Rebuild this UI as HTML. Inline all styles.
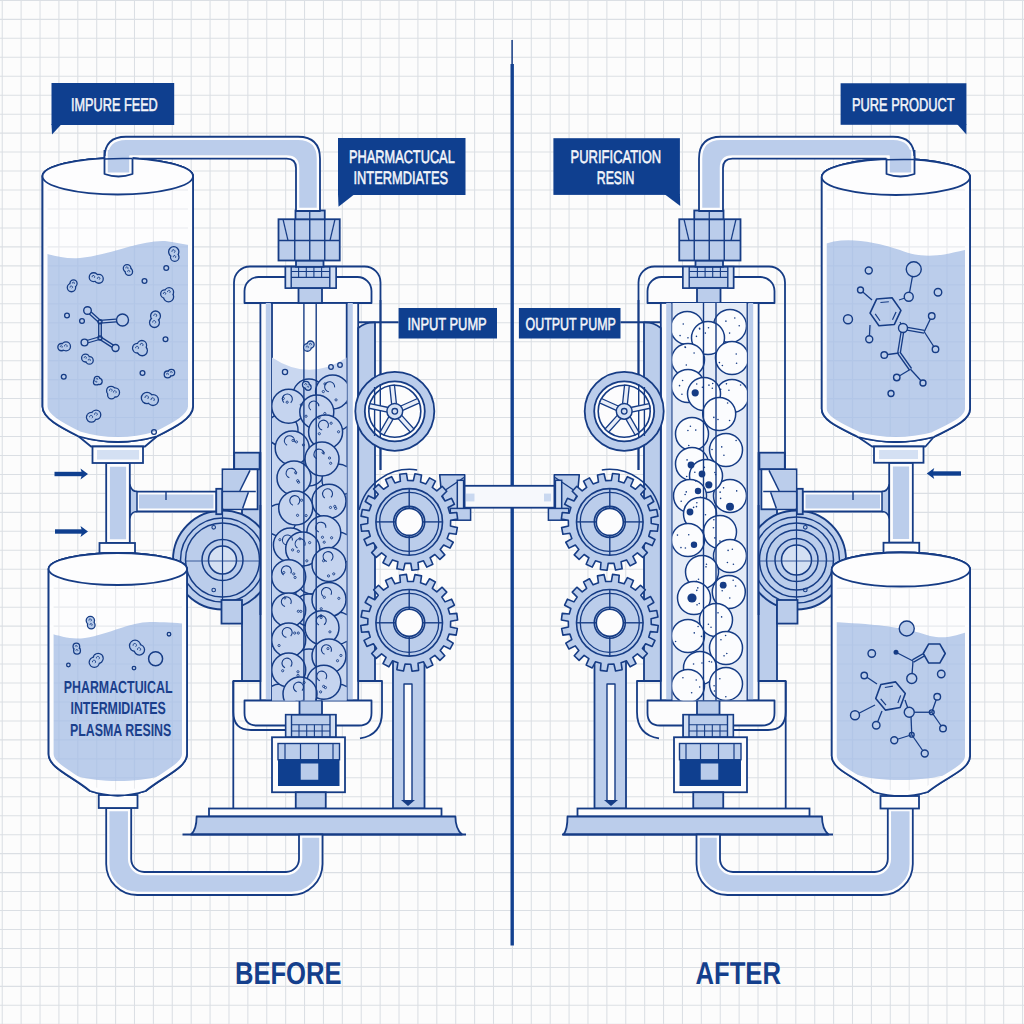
<!DOCTYPE html>
<html><head><meta charset="utf-8"><style>
html,body{margin:0;padding:0;background:#fcfcfc;}
svg{display:block;font-family:"Liberation Sans",sans-serif;}
text{text-rendering:geometricPrecision;}
</style></head><body>
<svg width="1024" height="1024" viewBox="0 0 1024 1024"><rect width="1024" height="1024" fill="#fcfcfc"/>
<path d="M2.23 0V1024M21.12 0V1024M40.02 0V1024M58.91 0V1024M77.81 0V1024M96.7 0V1024M115.6 0V1024M134.49 0V1024M153.39 0V1024M172.28 0V1024M191.18 0V1024M210.07 0V1024M228.97 0V1024M247.86 0V1024M266.76 0V1024M285.66 0V1024M304.55 0V1024M323.44 0V1024M342.34 0V1024M361.24 0V1024M380.13 0V1024M399.03 0V1024M417.92 0V1024M436.81 0V1024M455.71 0V1024M474.61 0V1024M493.5 0V1024M512.39 0V1024M531.29 0V1024M550.19 0V1024M569.08 0V1024M587.98 0V1024M606.87 0V1024M625.76 0V1024M644.66 0V1024M663.55 0V1024M682.45 0V1024M701.35 0V1024M720.24 0V1024M739.13 0V1024M758.03 0V1024M776.92 0V1024M795.82 0V1024M814.72 0V1024M833.61 0V1024M852.5 0V1024M871.4 0V1024M890.29 0V1024M909.19 0V1024M928.09 0V1024M946.98 0V1024M965.88 0V1024M984.77 0V1024M1003.66 0V1024M1022.56 0V1024M0 0.4H1024M0 19.36H1024M0 38.32H1024M0 57.28H1024M0 76.24H1024M0 95.2H1024M0 114.17H1024M0 133.13H1024M0 152.09H1024M0 171.05H1024M0 190.01H1024M0 208.97H1024M0 227.93H1024M0 246.89H1024M0 265.85H1024M0 284.81H1024M0 303.78H1024M0 322.74H1024M0 341.7H1024M0 360.66H1024M0 379.62H1024M0 398.58H1024M0 417.54H1024M0 436.5H1024M0 455.46H1024M0 474.42H1024M0 493.39H1024M0 512.35H1024M0 531.31H1024M0 550.27H1024M0 569.23H1024M0 588.19H1024M0 607.15H1024M0 626.11H1024M0 645.07H1024M0 664.03H1024M0 683H1024M0 701.96H1024M0 720.92H1024M0 739.88H1024M0 758.84H1024M0 777.8H1024M0 796.76H1024M0 815.72H1024M0 834.68H1024M0 853.64H1024M0 872.61H1024M0 891.57H1024M0 910.53H1024M0 929.49H1024M0 948.45H1024M0 967.41H1024M0 986.37H1024M0 1005.33H1024M0 1024.29H1024" stroke="#dbdfe4" stroke-width="1.05" fill="none"/>
<line x1="512.1" y1="40" x2="512.1" y2="64" stroke="#163c85" stroke-width="1.5"/>
<line x1="512.2" y1="64" x2="512.2" y2="945.5" stroke="#12408f" stroke-width="3.4"/>
<rect x="463.6" y="485.8" width="91.4" height="21.9" rx="0" fill="#f6f8fc" stroke="#163c85" stroke-width="1.8" />
<rect x="466" y="493.6" width="8.5" height="7.8" rx="0" fill="#c9d8f0" stroke="#163c85" stroke-width="0" />
<rect x="544" y="493.6" width="7" height="7.8" rx="0" fill="#c9d8f0" stroke="#163c85" stroke-width="0" />
<path d="M234 470V282.5A16 16 0 0 1 250 266.5H364.5A16 16 0 0 1 380.5 282.5V470" fill="none" stroke="#163c85" stroke-width="1.8" stroke-linejoin="round" />
<path d="M244.5 303V291A14 14 0 0 1 258.5 277H357.5A14 14 0 0 1 371.5 291V303Z" fill="#fcfcfd" stroke="#163c85" stroke-width="1.8" stroke-linejoin="round" />
<rect x="260.4" y="303" width="97.8" height="397.5" rx="0" fill="#fcfcfd" stroke="#163c85" stroke-width="1.8" />
<rect x="265.8" y="303" width="5" height="397.5" rx="0" fill="#bbcdeb" stroke="#163c85" stroke-width="0" />
<rect x="347.4" y="303" width="5.4" height="397.5" rx="0" fill="#bbcdeb" stroke="#163c85" stroke-width="0" />
<line x1="272" y1="303" x2="272" y2="700.5" stroke="#163c85" stroke-width="1.8"/>
<line x1="346.7" y1="303" x2="346.7" y2="700.5" stroke="#163c85" stroke-width="1.8"/>
<rect x="242" y="453" width="18.4" height="228" rx="0" fill="#bbcdeb" stroke="#163c85" stroke-width="1.8" />
<path d="M358.2 681V328Q366 322 375 322.5V681Z" fill="#bbcdeb" stroke="#163c85" stroke-width="1.8" stroke-linejoin="round" />
<line x1="380.5" y1="300" x2="380.5" y2="470" stroke="#163c85" stroke-width="1.8"/>
<rect x="234.2" y="452.7" width="25.4" height="16.6" rx="0" fill="#bbcdeb" stroke="#163c85" stroke-width="1.8" />
<rect x="222.5" y="469.3" width="35.1" height="40" rx="0" fill="#fcfcfd" stroke="#163c85" stroke-width="1.8" />
<path d="M223.4 470.3H250L239.8 491H223.4Z" fill="#bbcdeb" stroke="#163c85" stroke-width="0" stroke-linejoin="round" />
<path d="M223.4 492.3H248.4L242.6 508.4H223.4Z" fill="#bbcdeb" stroke="#163c85" stroke-width="0" stroke-linejoin="round" />
<line x1="250" y1="470.3" x2="239.8" y2="491" stroke="#163c85" stroke-width="1.5"/>
<line x1="248.4" y1="492.3" x2="242.6" y2="508.4" stroke="#163c85" stroke-width="1.5"/>
<line x1="222.5" y1="491.6" x2="255.8" y2="491.6" stroke="#163c85" stroke-width="1.5"/>
<path d="M260.4 681H233.3V712Q233.3 730 251 730H300" fill="none" stroke="#163c85" stroke-width="1.8" stroke-linejoin="round" />
<path d="M358.2 681H382V712Q382 735 360 738.4" fill="none" stroke="#163c85" stroke-width="1.8" stroke-linejoin="round" />
<path d="M244.5 700.5H371.5V713Q371.5 725.5 359 725.5H257Q244.5 725.5 244.5 713Z" fill="#fcfcfd" stroke="#163c85" stroke-width="1.8" stroke-linejoin="round" />
<line x1="233.3" y1="681" x2="233.3" y2="808.5" stroke="#163c85" stroke-width="1.8"/>
<rect x="299.5" y="700.5" width="22.5" height="14.25" rx="0" fill="#bbcdeb" stroke="#163c85" stroke-width="1.8" />
<rect x="285.75" y="714.75" width="50" height="22.5" rx="0" fill="#bbcdeb" stroke="#163c85" stroke-width="1.8" />
<rect x="285.75" y="714.75" width="5.75" height="22.5" rx="0" fill="#d4e0f3" stroke="#163c85" stroke-width="1.4" />
<rect x="330" y="714.75" width="5.75" height="22.5" rx="0" fill="#d4e0f3" stroke="#163c85" stroke-width="1.4" />
<line x1="291.5" y1="724.75" x2="330" y2="724.75" stroke="#163c85" stroke-width="1.2"/>
<line x1="291.5" y1="731" x2="330" y2="731" stroke="#163c85" stroke-width="1.2"/>
<line x1="299" y1="724.75" x2="299" y2="737.25" stroke="#163c85" stroke-width="1.1"/>
<line x1="306.7" y1="724.75" x2="306.7" y2="737.25" stroke="#163c85" stroke-width="1.1"/>
<line x1="314.4" y1="724.75" x2="314.4" y2="737.25" stroke="#163c85" stroke-width="1.1"/>
<line x1="322.1" y1="724.75" x2="322.1" y2="737.25" stroke="#163c85" stroke-width="1.1"/>
<rect x="272" y="737.25" width="73" height="55" rx="0" fill="#fcfcfd" stroke="#163c85" stroke-width="1.8" />
<rect x="278" y="743.5" width="61.5" height="16.25" rx="0" fill="#bbcdeb" stroke="#163c85" stroke-width="1.4" />
<line x1="285" y1="743.5" x2="285" y2="759.75" stroke="#163c85" stroke-width="1.2"/>
<line x1="300.5" y1="743.5" x2="300.5" y2="759.75" stroke="#163c85" stroke-width="1.2"/>
<line x1="318.5" y1="743.5" x2="318.5" y2="759.75" stroke="#163c85" stroke-width="1.2"/>
<line x1="333" y1="743.5" x2="333" y2="759.75" stroke="#163c85" stroke-width="1.2"/>
<rect x="278" y="759.75" width="61.5" height="26.25" rx="0" fill="#0f3f8f" stroke="#163c85" stroke-width="0" />
<rect x="300.75" y="763.5" width="17.5" height="16.25" rx="0" fill="#b9cbea" stroke="#163c85" stroke-width="0" />
<rect x="295.75" y="792.25" width="30" height="16.25" rx="0" fill="#bbcdeb" stroke="#163c85" stroke-width="1.8" />
<rect x="298.5" y="288" width="23.5" height="15" rx="0" fill="#bbcdeb" stroke="#163c85" stroke-width="1.8" />
<rect x="285.5" y="266.75" width="50.5" height="21.25" rx="0" fill="#bbcdeb" stroke="#163c85" stroke-width="1.8" />
<rect x="285.5" y="266.75" width="5.7" height="21.25" rx="0" fill="#d4e0f3" stroke="#163c85" stroke-width="1.4" />
<rect x="329.8" y="266.75" width="6.2" height="21.25" rx="0" fill="#d4e0f3" stroke="#163c85" stroke-width="1.4" />
<line x1="291.2" y1="271.5" x2="329.8" y2="271.5" stroke="#163c85" stroke-width="1.2"/>
<line x1="291.2" y1="277.3" x2="329.8" y2="277.3" stroke="#163c85" stroke-width="1.2"/>
<line x1="298.6" y1="266.75" x2="298.6" y2="277.3" stroke="#163c85" stroke-width="1.1"/>
<line x1="306.3" y1="266.75" x2="306.3" y2="277.3" stroke="#163c85" stroke-width="1.1"/>
<line x1="313.9" y1="266.75" x2="313.9" y2="277.3" stroke="#163c85" stroke-width="1.1"/>
<line x1="321.6" y1="266.75" x2="321.6" y2="277.3" stroke="#163c85" stroke-width="1.1"/>
<rect x="296" y="260.5" width="27.5" height="6.25" rx="0" fill="#bbcdeb" stroke="#163c85" stroke-width="1.8" />
<rect x="278.5" y="219.25" width="61.25" height="41.25" rx="0" fill="#bbcdeb" stroke="#163c85" stroke-width="1.8" />
<line x1="278.5" y1="240.5" x2="339.75" y2="240.5" stroke="#163c85" stroke-width="1.4"/>
<line x1="294.75" y1="219.25" x2="294.75" y2="260.5" stroke="#163c85" stroke-width="1.4"/>
<line x1="309.75" y1="219.25" x2="309.75" y2="260.5" stroke="#163c85" stroke-width="1.4"/>
<line x1="324.75" y1="219.25" x2="324.75" y2="260.5" stroke="#163c85" stroke-width="1.4"/>
<line x1="283" y1="219.25" x2="288" y2="240.5" stroke="#163c85" stroke-width="1.2"/>
<line x1="335" y1="219.25" x2="330" y2="240.5" stroke="#163c85" stroke-width="1.2"/>
<rect x="295.5" y="210.5" width="29.25" height="8.75" rx="0" fill="#bbcdeb" stroke="#163c85" stroke-width="1.8" />
<line x1="309.75" y1="210.5" x2="309.75" y2="219.25" stroke="#163c85" stroke-width="1.2"/>
<rect x="393" y="660" width="31.5" height="148.5" rx="0" fill="#bbcdeb" stroke="#163c85" stroke-width="1.8" />
<path d="M404 684H412V800L408 804L404 800Z" fill="#fcfcfd" stroke="#163c85" stroke-width="1.4" stroke-linejoin="round" />
<path d="M401 800H415L408 806Z" fill="#163c85" stroke="#163c85" stroke-width="0" stroke-linejoin="round" />
<rect x="209" y="808.5" width="232.5" height="8" rx="0" fill="#fdfdfe" stroke="#163c85" stroke-width="1.8" />
<path d="M196.6 816.5H455.4C455.4 826 458 831 462 834.5H191C195 831 196.6 826 196.6 816.5Z" fill="#bbcdeb" stroke="#163c85" stroke-width="1.8" stroke-linejoin="round" />
<line x1="182.5" y1="834.5" x2="466" y2="834.5" stroke="#163c85" stroke-width="1.8"/>
<circle cx="394.8" cy="411.3" r="39.5" fill="#bbcdeb" stroke="#163c85" stroke-width="1.8" />
<circle cx="394.8" cy="411.3" r="30" fill="#fcfcfd" stroke="#163c85" stroke-width="1.8" />
<circle cx="394.8" cy="411.3" r="26" fill="none" stroke="#163c85" stroke-width="1.6" />
<line x1="374.6" y1="387" x2="374.6" y2="436" stroke="#163c85" stroke-width="1.4"/>
<line x1="380.3" y1="384" x2="380.3" y2="438" stroke="#163c85" stroke-width="1.4"/>
<path d="M396.46 404.09L394.47 385.19L389.7 385.69L391.68 404.59Z" fill="#e9eef8" stroke="#163c85" stroke-width="1.3" stroke-linejoin="round" />
<path d="M402.17 410.65L419.53 402.92L417.58 398.53L400.22 406.26Z" fill="#e9eef8" stroke="#163c85" stroke-width="1.3" stroke-linejoin="round" />
<path d="M397.7 418.11L410.41 432.23L413.98 429.02L401.27 414.9Z" fill="#e9eef8" stroke="#163c85" stroke-width="1.3" stroke-linejoin="round" />
<path d="M389.22 416.16L379.72 432.62L383.88 435.02L393.38 418.56Z" fill="#e9eef8" stroke="#163c85" stroke-width="1.3" stroke-linejoin="round" />
<path d="M388.45 407.5L369.87 403.55L368.87 408.24L387.45 412.19Z" fill="#e9eef8" stroke="#163c85" stroke-width="1.3" stroke-linejoin="round" />
<circle cx="394.8" cy="411.3" r="7.9" fill="#d4e0f3" stroke="#163c85" stroke-width="1.5" />
<circle cx="394.8" cy="411.3" r="2.8" fill="none" stroke="#163c85" stroke-width="1.3" />
<path d="M439.7 474.8H464.7V513.9H450L441.5 494Z" fill="#bbcdeb" stroke="#163c85" stroke-width="1.6" stroke-linejoin="round" />
<line x1="464.7" y1="477" x2="439.5" y2="494" stroke="#163c85" stroke-width="1.4"/>
<rect x="457.3" y="480.3" width="6.3" height="33.6" rx="0" fill="#d4e0f3" stroke="#163c85" stroke-width="1.5" />
<rect x="450.3" y="508.4" width="20.3" height="11.8" rx="0" fill="#bbcdeb" stroke="#163c85" stroke-width="1.5" />
<path d="M359.2 509.9A52 52 0 0 1 417.2 469.9" fill="none" stroke="#163c85" stroke-width="1.5" stroke-linejoin="round" />
<path d="M450.49 526.04L457.36 527.65L456.11 534.23L449.13 533.21L447.19 538.6L453.22 542.25L450 548.12L443.68 544.99L440.17 549.52L444.78 554.86L439.9 559.45L434.86 554.52L430.12 557.74L432.85 564.24L426.79 567.1L423.52 560.85L418.02 562.45L418.61 569.48L411.97 570.32L410.79 563.37L405.06 563.19L403.45 570.06L396.87 568.81L397.89 561.83L392.5 559.89L388.85 565.92L382.98 562.7L386.11 556.38L381.58 552.87L376.24 557.48L371.65 552.6L376.58 547.56L373.36 542.82L366.86 545.55L364 539.49L370.25 536.22L368.65 530.72L361.62 531.31L360.78 524.67L367.73 523.49L367.91 517.76L361.04 516.15L362.29 509.57L369.27 510.59L371.21 505.2L365.18 501.55L368.4 495.68L374.72 498.81L378.23 494.28L373.62 488.94L378.5 484.35L383.54 489.28L388.28 486.06L385.55 479.56L391.61 476.7L394.88 482.95L400.38 481.35L399.79 474.32L406.43 473.48L407.61 480.43L413.34 480.61L414.95 473.74L421.53 474.99L420.51 481.97L425.9 483.91L429.55 477.88L435.42 481.1L432.29 487.42L436.82 490.93L442.16 486.32L446.75 491.2L441.82 496.24L445.04 500.98L451.54 498.25L454.4 504.31L448.15 507.58L449.75 513.08L456.78 512.49L457.62 519.13L450.67 520.31Z" fill="#bbcdeb" stroke="#163c85" stroke-width="1.6" stroke-linejoin="round" />
<circle cx="409.2" cy="521.9" r="33.3" fill="none" stroke="#163c85" stroke-width="1.6" />
<circle cx="409.2" cy="521.9" r="29.5" fill="none" stroke="#163c85" stroke-width="1.3" />
<circle cx="409.2" cy="521.9" r="15.5" fill="none" stroke="#163c85" stroke-width="1.6" />
<circle cx="409.2" cy="521.9" r="13.5" fill="#fcfcfd" stroke="#163c85" stroke-width="1.6" />
<line x1="409.2" y1="488.9" x2="409.2" y2="508.4" stroke="#163c85" stroke-width="1.4"/>
<line x1="409.2" y1="535.4" x2="409.2" y2="554.9" stroke="#163c85" stroke-width="1.4"/>
<line x1="376" y1="521.9" x2="395.7" y2="521.9" stroke="#163c85" stroke-width="1.4"/>
<line x1="422.7" y1="521.9" x2="442.4" y2="521.9" stroke="#163c85" stroke-width="1.4"/>
<path d="M450.49 626.94L457.36 628.55L456.11 635.13L449.13 634.11L447.19 639.5L453.22 643.15L450 649.02L443.68 645.89L440.17 650.42L444.78 655.76L439.9 660.35L434.86 655.42L430.12 658.64L432.85 665.14L426.79 668L423.52 661.75L418.02 663.35L418.61 670.38L411.97 671.22L410.79 664.27L405.06 664.09L403.45 670.96L396.87 669.71L397.89 662.73L392.5 660.79L388.85 666.82L382.98 663.6L386.11 657.28L381.58 653.77L376.24 658.38L371.65 653.5L376.58 648.46L373.36 643.72L366.86 646.45L364 640.39L370.25 637.12L368.65 631.62L361.62 632.21L360.78 625.57L367.73 624.39L367.91 618.66L361.04 617.05L362.29 610.47L369.27 611.49L371.21 606.1L365.18 602.45L368.4 596.58L374.72 599.71L378.23 595.18L373.62 589.84L378.5 585.25L383.54 590.18L388.28 586.96L385.55 580.46L391.61 577.6L394.88 583.85L400.38 582.25L399.79 575.22L406.43 574.38L407.61 581.33L413.34 581.51L414.95 574.64L421.53 575.89L420.51 582.87L425.9 584.81L429.55 578.78L435.42 582L432.29 588.32L436.82 591.83L442.16 587.22L446.75 592.1L441.82 597.14L445.04 601.88L451.54 599.15L454.4 605.21L448.15 608.48L449.75 613.98L456.78 613.39L457.62 620.03L450.67 621.21Z" fill="#bbcdeb" stroke="#163c85" stroke-width="1.6" stroke-linejoin="round" />
<circle cx="409.2" cy="622.8" r="33.3" fill="none" stroke="#163c85" stroke-width="1.6" />
<circle cx="409.2" cy="622.8" r="29.5" fill="none" stroke="#163c85" stroke-width="1.3" />
<circle cx="409.2" cy="622.8" r="15.5" fill="none" stroke="#163c85" stroke-width="1.6" />
<circle cx="409.2" cy="622.8" r="13.5" fill="#fcfcfd" stroke="#163c85" stroke-width="1.6" />
<line x1="409.2" y1="589.8" x2="409.2" y2="609.3" stroke="#163c85" stroke-width="1.4"/>
<line x1="409.2" y1="636.3" x2="409.2" y2="655.8" stroke="#163c85" stroke-width="1.4"/>
<line x1="376" y1="622.8" x2="395.7" y2="622.8" stroke="#163c85" stroke-width="1.4"/>
<line x1="422.7" y1="622.8" x2="442.4" y2="622.8" stroke="#163c85" stroke-width="1.4"/>
<clipPath id="lcc"><rect x="272" y="303" width="74.7" height="397.5"/></clipPath><g clip-path="url(#lcc)">
<path d="M272 357.4Q309 382 346.7 357.4V700.5H272Z" fill="#c9d7f0" stroke="#163c85" stroke-width="0" stroke-linejoin="round" />
<circle cx="309" cy="395" r="16" fill="#c2d2ee" stroke="#163c85" stroke-width="1.4" />
<circle cx="282" cy="430" r="16" fill="#c2d2ee" stroke="#163c85" stroke-width="1.4" />
<circle cx="336" cy="415" r="16" fill="#c2d2ee" stroke="#163c85" stroke-width="1.4" />
<circle cx="309" cy="470" r="16" fill="#c2d2ee" stroke="#163c85" stroke-width="1.4" />
<circle cx="338" cy="480" r="16" fill="#c2d2ee" stroke="#163c85" stroke-width="1.4" />
<circle cx="280" cy="520" r="16" fill="#c2d2ee" stroke="#163c85" stroke-width="1.4" />
<circle cx="312" cy="578" r="16" fill="#c2d2ee" stroke="#163c85" stroke-width="1.4" />
<circle cx="338" cy="548" r="16" fill="#c2d2ee" stroke="#163c85" stroke-width="1.4" />
<circle cx="280" cy="595" r="16" fill="#c2d2ee" stroke="#163c85" stroke-width="1.4" />
<circle cx="309" cy="610" r="16" fill="#c2d2ee" stroke="#163c85" stroke-width="1.4" />
<circle cx="338" cy="628" r="16" fill="#c2d2ee" stroke="#163c85" stroke-width="1.4" />
<circle cx="280" cy="660" r="16" fill="#c2d2ee" stroke="#163c85" stroke-width="1.4" />
<circle cx="309" cy="665" r="16" fill="#c2d2ee" stroke="#163c85" stroke-width="1.4" />
<circle cx="338" cy="700" r="16" fill="#c2d2ee" stroke="#163c85" stroke-width="1.4" />
<circle cx="280" cy="700" r="16" fill="#c2d2ee" stroke="#163c85" stroke-width="1.4" />
<circle cx="332.6" cy="392" r="17" fill="#c5d4ef" stroke="#163c85" stroke-width="1.5" />
<circle cx="288.7" cy="406.3" r="17" fill="#c5d4ef" stroke="#163c85" stroke-width="1.5" />
<circle cx="316.8" cy="412" r="17" fill="#c5d4ef" stroke="#163c85" stroke-width="1.5" />
<circle cx="325.6" cy="432" r="17" fill="#c5d4ef" stroke="#163c85" stroke-width="1.5" />
<circle cx="292.2" cy="448" r="17" fill="#c5d4ef" stroke="#163c85" stroke-width="1.5" />
<circle cx="322" cy="459" r="17" fill="#c5d4ef" stroke="#163c85" stroke-width="1.5" />
<circle cx="294" cy="478" r="17" fill="#c5d4ef" stroke="#163c85" stroke-width="1.5" />
<circle cx="329" cy="501.2" r="17" fill="#c5d4ef" stroke="#163c85" stroke-width="1.5" />
<circle cx="295.7" cy="508" r="17" fill="#c5d4ef" stroke="#163c85" stroke-width="1.5" />
<circle cx="323.8" cy="532.8" r="17" fill="#c5d4ef" stroke="#163c85" stroke-width="1.5" />
<circle cx="290.4" cy="545" r="17" fill="#c5d4ef" stroke="#163c85" stroke-width="1.5" />
<circle cx="302.7" cy="549" r="17" fill="#c5d4ef" stroke="#163c85" stroke-width="1.5" />
<circle cx="329" cy="564.5" r="17" fill="#c5d4ef" stroke="#163c85" stroke-width="1.5" />
<circle cx="288.7" cy="576.8" r="17" fill="#c5d4ef" stroke="#163c85" stroke-width="1.5" />
<circle cx="329" cy="599.6" r="17" fill="#c5d4ef" stroke="#163c85" stroke-width="1.5" />
<circle cx="288.7" cy="610" r="17" fill="#c5d4ef" stroke="#163c85" stroke-width="1.5" />
<circle cx="322" cy="627.8" r="17" fill="#c5d4ef" stroke="#163c85" stroke-width="1.5" />
<circle cx="288.7" cy="640" r="17" fill="#c5d4ef" stroke="#163c85" stroke-width="1.5" />
<circle cx="329" cy="656" r="17" fill="#c5d4ef" stroke="#163c85" stroke-width="1.5" />
<circle cx="288.7" cy="670" r="17" fill="#c5d4ef" stroke="#163c85" stroke-width="1.5" />
<circle cx="323.8" cy="682.3" r="17" fill="#c5d4ef" stroke="#163c85" stroke-width="1.5" />
<circle cx="300" cy="694" r="17" fill="#c5d4ef" stroke="#163c85" stroke-width="1.5" />
<path d="M328.84 391.7A5 5 0 1 1 334.6 387.4" fill="none" stroke="#163c85" stroke-width="1.1"/>
<circle cx="323.32" cy="391.56" r="1.1" fill="none" stroke="#163c85" stroke-width="0.9" />
<circle cx="336.04" cy="399.89" r="1.1" fill="none" stroke="#163c85" stroke-width="0.9" />
<circle cx="324.95" cy="383.9" r="1.1" fill="none" stroke="#163c85" stroke-width="0.9" />
<path d="M283.91 402.66A5 5 0 1 1 290.7 402.73" fill="none" stroke="#163c85" stroke-width="1.1"/>
<circle cx="287.17" cy="402.2" r="1.1" fill="none" stroke="#163c85" stroke-width="0.9" />
<circle cx="301.3" cy="404.84" r="1.1" fill="none" stroke="#163c85" stroke-width="0.9" />
<circle cx="283.27" cy="398.46" r="1.1" fill="none" stroke="#163c85" stroke-width="0.9" />
<path d="M310.86 410.11A5 5 0 1 1 318.8 406.18" fill="none" stroke="#163c85" stroke-width="1.1"/>
<circle cx="319.07" cy="417.75" r="1.1" fill="none" stroke="#163c85" stroke-width="0.9" />
<circle cx="324.83" cy="413.54" r="1.1" fill="none" stroke="#163c85" stroke-width="0.9" />
<circle cx="306.02" cy="416.24" r="1.1" fill="none" stroke="#163c85" stroke-width="0.9" />
<path d="M322.16 430A5 5 0 1 1 327.6 427.99" fill="none" stroke="#163c85" stroke-width="1.1"/>
<circle cx="319.33" cy="433.73" r="1.1" fill="none" stroke="#163c85" stroke-width="0.9" />
<circle cx="338.56" cy="431.77" r="1.1" fill="none" stroke="#163c85" stroke-width="0.9" />
<circle cx="331.15" cy="423.24" r="1.1" fill="none" stroke="#163c85" stroke-width="0.9" />
<path d="M287.12 445.16A5 5 0 1 1 294.2 442.21" fill="none" stroke="#163c85" stroke-width="1.1"/>
<circle cx="292.96" cy="440.43" r="1.1" fill="none" stroke="#163c85" stroke-width="0.9" />
<circle cx="296.45" cy="441.85" r="1.1" fill="none" stroke="#163c85" stroke-width="0.9" />
<circle cx="303.41" cy="444.94" r="1.1" fill="none" stroke="#163c85" stroke-width="0.9" />
<path d="M316.84 458.64A5 5 0 1 1 324 454.41" fill="none" stroke="#163c85" stroke-width="1.1"/>
<circle cx="329.52" cy="458.04" r="1.1" fill="none" stroke="#163c85" stroke-width="0.9" />
<circle cx="330.67" cy="463.28" r="1.1" fill="none" stroke="#163c85" stroke-width="0.9" />
<circle cx="323.13" cy="452.67" r="1.1" fill="none" stroke="#163c85" stroke-width="0.9" />
<path d="M289.33 477.86A5 5 0 1 1 296 474.27" fill="none" stroke="#163c85" stroke-width="1.1"/>
<circle cx="298.59" cy="482.2" r="1.1" fill="none" stroke="#163c85" stroke-width="0.9" />
<circle cx="297.66" cy="480.69" r="1.1" fill="none" stroke="#163c85" stroke-width="0.9" />
<circle cx="295.62" cy="472.64" r="1.1" fill="none" stroke="#163c85" stroke-width="0.9" />
<path d="M324.79 497.96A5 5 0 1 1 331 497.4" fill="none" stroke="#163c85" stroke-width="1.1"/>
<circle cx="335.66" cy="508.38" r="1.1" fill="none" stroke="#163c85" stroke-width="0.9" />
<circle cx="334.79" cy="506.4" r="1.1" fill="none" stroke="#163c85" stroke-width="0.9" />
<circle cx="330.49" cy="507.45" r="1.1" fill="none" stroke="#163c85" stroke-width="0.9" />
<path d="M292.91 505.22A5 5 0 1 1 297.7 504.65" fill="none" stroke="#163c85" stroke-width="1.1"/>
<circle cx="297.55" cy="515.32" r="1.1" fill="none" stroke="#163c85" stroke-width="0.9" />
<circle cx="301.64" cy="500.24" r="1.1" fill="none" stroke="#163c85" stroke-width="0.9" />
<circle cx="306.13" cy="515.6" r="1.1" fill="none" stroke="#163c85" stroke-width="0.9" />
<path d="M318.83 531.89A5 5 0 1 1 325.8 527.79" fill="none" stroke="#163c85" stroke-width="1.1"/>
<circle cx="322.47" cy="537.27" r="1.1" fill="none" stroke="#163c85" stroke-width="0.9" />
<circle cx="331.6" cy="537.76" r="1.1" fill="none" stroke="#163c85" stroke-width="0.9" />
<circle cx="324.22" cy="542.2" r="1.1" fill="none" stroke="#163c85" stroke-width="0.9" />
<path d="M286.21 544.84A5 5 0 1 1 292.4 540.45" fill="none" stroke="#163c85" stroke-width="1.1"/>
<circle cx="279.86" cy="539.69" r="1.1" fill="none" stroke="#163c85" stroke-width="0.9" />
<circle cx="292.61" cy="549.91" r="1.1" fill="none" stroke="#163c85" stroke-width="0.9" />
<circle cx="299.91" cy="538.79" r="1.1" fill="none" stroke="#163c85" stroke-width="0.9" />
<path d="M297.46 547.96A5 5 0 1 1 304.7 545.82" fill="none" stroke="#163c85" stroke-width="1.1"/>
<circle cx="306.84" cy="560.85" r="1.1" fill="none" stroke="#163c85" stroke-width="0.9" />
<circle cx="309.65" cy="542.62" r="1.1" fill="none" stroke="#163c85" stroke-width="0.9" />
<circle cx="298.36" cy="551.34" r="1.1" fill="none" stroke="#163c85" stroke-width="0.9" />
<path d="M326.85 561.45A5 5 0 1 1 331 560.61" fill="none" stroke="#163c85" stroke-width="1.1"/>
<circle cx="328.51" cy="575.9" r="1.1" fill="none" stroke="#163c85" stroke-width="0.9" />
<circle cx="323.53" cy="560.73" r="1.1" fill="none" stroke="#163c85" stroke-width="0.9" />
<circle cx="333.74" cy="573.85" r="1.1" fill="none" stroke="#163c85" stroke-width="0.9" />
<path d="M283.61 575.04A5 5 0 1 1 290.7 573.36" fill="none" stroke="#163c85" stroke-width="1.1"/>
<circle cx="283.78" cy="572.52" r="1.1" fill="none" stroke="#163c85" stroke-width="0.9" />
<circle cx="293.76" cy="573.89" r="1.1" fill="none" stroke="#163c85" stroke-width="0.9" />
<circle cx="295.09" cy="577.47" r="1.1" fill="none" stroke="#163c85" stroke-width="0.9" />
<path d="M323.24 596.31A5 5 0 1 1 331 594.71" fill="none" stroke="#163c85" stroke-width="1.1"/>
<circle cx="324.34" cy="597.34" r="1.1" fill="none" stroke="#163c85" stroke-width="0.9" />
<circle cx="321.23" cy="608.77" r="1.1" fill="none" stroke="#163c85" stroke-width="0.9" />
<circle cx="338.83" cy="598.36" r="1.1" fill="none" stroke="#163c85" stroke-width="0.9" />
<path d="M285.04 606.56A5 5 0 1 1 290.7 604.11" fill="none" stroke="#163c85" stroke-width="1.1"/>
<circle cx="300.82" cy="611.37" r="1.1" fill="none" stroke="#163c85" stroke-width="0.9" />
<circle cx="284.83" cy="597.94" r="1.1" fill="none" stroke="#163c85" stroke-width="0.9" />
<circle cx="298.34" cy="611.29" r="1.1" fill="none" stroke="#163c85" stroke-width="0.9" />
<path d="M318.92 625.08A5 5 0 1 1 324 624.8" fill="none" stroke="#163c85" stroke-width="1.1"/>
<circle cx="329.94" cy="631.86" r="1.1" fill="none" stroke="#163c85" stroke-width="0.9" />
<circle cx="320.98" cy="615.74" r="1.1" fill="none" stroke="#163c85" stroke-width="0.9" />
<circle cx="321.14" cy="617.5" r="1.1" fill="none" stroke="#163c85" stroke-width="0.9" />
<path d="M286.36 637.41A5 5 0 1 1 290.7 636.06" fill="none" stroke="#163c85" stroke-width="1.1"/>
<circle cx="298.3" cy="633.06" r="1.1" fill="none" stroke="#163c85" stroke-width="0.9" />
<circle cx="279.06" cy="645.54" r="1.1" fill="none" stroke="#163c85" stroke-width="0.9" />
<circle cx="294.67" cy="633.06" r="1.1" fill="none" stroke="#163c85" stroke-width="0.9" />
<path d="M324.53 654.33A5 5 0 1 1 331 651.83" fill="none" stroke="#163c85" stroke-width="1.1"/>
<circle cx="337.54" cy="660.71" r="1.1" fill="none" stroke="#163c85" stroke-width="0.9" />
<circle cx="340.91" cy="655.46" r="1.1" fill="none" stroke="#163c85" stroke-width="0.9" />
<circle cx="327.96" cy="648.58" r="1.1" fill="none" stroke="#163c85" stroke-width="0.9" />
<path d="M285.02 667.76A5 5 0 1 1 290.7 666.52" fill="none" stroke="#163c85" stroke-width="1.1"/>
<circle cx="298" cy="675.4" r="1.1" fill="none" stroke="#163c85" stroke-width="0.9" />
<circle cx="297.95" cy="671.75" r="1.1" fill="none" stroke="#163c85" stroke-width="0.9" />
<circle cx="282.67" cy="670.73" r="1.1" fill="none" stroke="#163c85" stroke-width="0.9" />
<path d="M319.79 680.76A5 5 0 1 1 325.8 679.06" fill="none" stroke="#163c85" stroke-width="1.1"/>
<circle cx="323.65" cy="686.4" r="1.1" fill="none" stroke="#163c85" stroke-width="0.9" />
<circle cx="320.62" cy="691.89" r="1.1" fill="none" stroke="#163c85" stroke-width="0.9" />
<circle cx="325.43" cy="687.58" r="1.1" fill="none" stroke="#163c85" stroke-width="0.9" />
<path d="M296.64 691.77A5 5 0 1 1 302 690.68" fill="none" stroke="#163c85" stroke-width="1.1"/>
<circle cx="295.36" cy="702.85" r="1.1" fill="none" stroke="#163c85" stroke-width="0.9" />
<circle cx="302.51" cy="701.47" r="1.1" fill="none" stroke="#163c85" stroke-width="0.9" />
<circle cx="304.18" cy="682.51" r="1.1" fill="none" stroke="#163c85" stroke-width="0.9" />
</g>
<line x1="303.9" y1="303" x2="303.9" y2="700.5" stroke="#163c85" stroke-width="1.4"/>
<line x1="316.2" y1="303" x2="316.2" y2="700.5" stroke="#163c85" stroke-width="1.4"/>
<circle cx="307.43" cy="347.4" r="3.18" fill="#163c85" stroke="#163c85" stroke-width="2.6" />
<circle cx="310.57" cy="344.6" r="2.93" fill="#163c85" stroke="#163c85" stroke-width="2.6" />
<circle cx="307.43" cy="347.4" r="3.18" fill="#b7cbea" stroke="#163c85" stroke-width="0" />
<circle cx="310.57" cy="344.6" r="2.93" fill="#b7cbea" stroke="#163c85" stroke-width="0" />
<path d="M306.16 347.4a1.11 1.11 0 1 1 1.59 0.64" fill="none" stroke="#163c85" stroke-width="0.9"/>
<path d="M309.4 344.6a1.03 1.03 0 1 1 1.46 0.59" fill="none" stroke="#163c85" stroke-width="0.9"/>
<circle cx="308.12" cy="387.26" r="2.37" fill="#163c85" stroke="#163c85" stroke-width="2.6" />
<circle cx="305.88" cy="384.74" r="2.77" fill="#163c85" stroke="#163c85" stroke-width="2.6" />
<circle cx="308.12" cy="387.26" r="2.37" fill="#b7cbea" stroke="#163c85" stroke-width="0" />
<circle cx="305.88" cy="384.74" r="2.77" fill="#b7cbea" stroke="#163c85" stroke-width="0" />
<path d="M307.17 387.26a0.83 0.83 0 1 1 1.18 0.47" fill="none" stroke="#163c85" stroke-width="0.9"/>
<path d="M304.78 384.74a0.97 0.97 0 1 1 1.39 0.55" fill="none" stroke="#163c85" stroke-width="0.9"/>
<circle cx="285" cy="372" r="2.6" fill="none" stroke="#163c85" stroke-width="1.3" />
<circle cx="331" cy="367" r="2.3" fill="none" stroke="#163c85" stroke-width="1.3" />
<circle cx="340" cy="365" r="2.3" fill="none" stroke="#163c85" stroke-width="1.3" />
<g transform="translate(1019 0) scale(-1 1)">
<path d="M234 470V282.5A16 16 0 0 1 250 266.5H364.5A16 16 0 0 1 380.5 282.5V470" fill="none" stroke="#163c85" stroke-width="1.8" stroke-linejoin="round" />
<path d="M244.5 303V291A14 14 0 0 1 258.5 277H357.5A14 14 0 0 1 371.5 291V303Z" fill="#fcfcfd" stroke="#163c85" stroke-width="1.8" stroke-linejoin="round" />
<rect x="260.4" y="303" width="97.8" height="397.5" rx="0" fill="#fcfcfd" stroke="#163c85" stroke-width="1.8" />
<rect x="265.8" y="303" width="5" height="397.5" rx="0" fill="#bbcdeb" stroke="#163c85" stroke-width="0" />
<rect x="347.4" y="303" width="5.4" height="397.5" rx="0" fill="#bbcdeb" stroke="#163c85" stroke-width="0" />
<line x1="272" y1="303" x2="272" y2="700.5" stroke="#163c85" stroke-width="1.8"/>
<line x1="346.7" y1="303" x2="346.7" y2="700.5" stroke="#163c85" stroke-width="1.8"/>
<rect x="242" y="453" width="18.4" height="228" rx="0" fill="#bbcdeb" stroke="#163c85" stroke-width="1.8" />
<path d="M358.2 681V328Q366 322 375 322.5V681Z" fill="#bbcdeb" stroke="#163c85" stroke-width="1.8" stroke-linejoin="round" />
<line x1="380.5" y1="300" x2="380.5" y2="470" stroke="#163c85" stroke-width="1.8"/>
<rect x="234.2" y="452.7" width="25.4" height="16.6" rx="0" fill="#bbcdeb" stroke="#163c85" stroke-width="1.8" />
<rect x="222.5" y="469.3" width="35.1" height="40" rx="0" fill="#fcfcfd" stroke="#163c85" stroke-width="1.8" />
<path d="M223.4 470.3H250L239.8 491H223.4Z" fill="#bbcdeb" stroke="#163c85" stroke-width="0" stroke-linejoin="round" />
<path d="M223.4 492.3H248.4L242.6 508.4H223.4Z" fill="#bbcdeb" stroke="#163c85" stroke-width="0" stroke-linejoin="round" />
<line x1="250" y1="470.3" x2="239.8" y2="491" stroke="#163c85" stroke-width="1.5"/>
<line x1="248.4" y1="492.3" x2="242.6" y2="508.4" stroke="#163c85" stroke-width="1.5"/>
<line x1="222.5" y1="491.6" x2="255.8" y2="491.6" stroke="#163c85" stroke-width="1.5"/>
<path d="M260.4 681H233.3V712Q233.3 730 251 730H300" fill="none" stroke="#163c85" stroke-width="1.8" stroke-linejoin="round" />
<path d="M358.2 681H382V712Q382 735 360 738.4" fill="none" stroke="#163c85" stroke-width="1.8" stroke-linejoin="round" />
<path d="M244.5 700.5H371.5V713Q371.5 725.5 359 725.5H257Q244.5 725.5 244.5 713Z" fill="#fcfcfd" stroke="#163c85" stroke-width="1.8" stroke-linejoin="round" />
<line x1="233.3" y1="681" x2="233.3" y2="808.5" stroke="#163c85" stroke-width="1.8"/>
<rect x="299.5" y="700.5" width="22.5" height="14.25" rx="0" fill="#bbcdeb" stroke="#163c85" stroke-width="1.8" />
<rect x="285.75" y="714.75" width="50" height="22.5" rx="0" fill="#bbcdeb" stroke="#163c85" stroke-width="1.8" />
<rect x="285.75" y="714.75" width="5.75" height="22.5" rx="0" fill="#d4e0f3" stroke="#163c85" stroke-width="1.4" />
<rect x="330" y="714.75" width="5.75" height="22.5" rx="0" fill="#d4e0f3" stroke="#163c85" stroke-width="1.4" />
<line x1="291.5" y1="724.75" x2="330" y2="724.75" stroke="#163c85" stroke-width="1.2"/>
<line x1="291.5" y1="731" x2="330" y2="731" stroke="#163c85" stroke-width="1.2"/>
<line x1="299" y1="724.75" x2="299" y2="737.25" stroke="#163c85" stroke-width="1.1"/>
<line x1="306.7" y1="724.75" x2="306.7" y2="737.25" stroke="#163c85" stroke-width="1.1"/>
<line x1="314.4" y1="724.75" x2="314.4" y2="737.25" stroke="#163c85" stroke-width="1.1"/>
<line x1="322.1" y1="724.75" x2="322.1" y2="737.25" stroke="#163c85" stroke-width="1.1"/>
<rect x="272" y="737.25" width="73" height="55" rx="0" fill="#fcfcfd" stroke="#163c85" stroke-width="1.8" />
<rect x="278" y="743.5" width="61.5" height="16.25" rx="0" fill="#bbcdeb" stroke="#163c85" stroke-width="1.4" />
<line x1="285" y1="743.5" x2="285" y2="759.75" stroke="#163c85" stroke-width="1.2"/>
<line x1="300.5" y1="743.5" x2="300.5" y2="759.75" stroke="#163c85" stroke-width="1.2"/>
<line x1="318.5" y1="743.5" x2="318.5" y2="759.75" stroke="#163c85" stroke-width="1.2"/>
<line x1="333" y1="743.5" x2="333" y2="759.75" stroke="#163c85" stroke-width="1.2"/>
<rect x="278" y="759.75" width="61.5" height="26.25" rx="0" fill="#0f3f8f" stroke="#163c85" stroke-width="0" />
<rect x="300.75" y="763.5" width="17.5" height="16.25" rx="0" fill="#b9cbea" stroke="#163c85" stroke-width="0" />
<rect x="295.75" y="792.25" width="30" height="16.25" rx="0" fill="#bbcdeb" stroke="#163c85" stroke-width="1.8" />
<rect x="298.5" y="288" width="23.5" height="15" rx="0" fill="#bbcdeb" stroke="#163c85" stroke-width="1.8" />
<rect x="285.5" y="266.75" width="50.5" height="21.25" rx="0" fill="#bbcdeb" stroke="#163c85" stroke-width="1.8" />
<rect x="285.5" y="266.75" width="5.7" height="21.25" rx="0" fill="#d4e0f3" stroke="#163c85" stroke-width="1.4" />
<rect x="329.8" y="266.75" width="6.2" height="21.25" rx="0" fill="#d4e0f3" stroke="#163c85" stroke-width="1.4" />
<line x1="291.2" y1="271.5" x2="329.8" y2="271.5" stroke="#163c85" stroke-width="1.2"/>
<line x1="291.2" y1="277.3" x2="329.8" y2="277.3" stroke="#163c85" stroke-width="1.2"/>
<line x1="298.6" y1="266.75" x2="298.6" y2="277.3" stroke="#163c85" stroke-width="1.1"/>
<line x1="306.3" y1="266.75" x2="306.3" y2="277.3" stroke="#163c85" stroke-width="1.1"/>
<line x1="313.9" y1="266.75" x2="313.9" y2="277.3" stroke="#163c85" stroke-width="1.1"/>
<line x1="321.6" y1="266.75" x2="321.6" y2="277.3" stroke="#163c85" stroke-width="1.1"/>
<rect x="296" y="260.5" width="27.5" height="6.25" rx="0" fill="#bbcdeb" stroke="#163c85" stroke-width="1.8" />
<rect x="278.5" y="219.25" width="61.25" height="41.25" rx="0" fill="#bbcdeb" stroke="#163c85" stroke-width="1.8" />
<line x1="278.5" y1="240.5" x2="339.75" y2="240.5" stroke="#163c85" stroke-width="1.4"/>
<line x1="294.75" y1="219.25" x2="294.75" y2="260.5" stroke="#163c85" stroke-width="1.4"/>
<line x1="309.75" y1="219.25" x2="309.75" y2="260.5" stroke="#163c85" stroke-width="1.4"/>
<line x1="324.75" y1="219.25" x2="324.75" y2="260.5" stroke="#163c85" stroke-width="1.4"/>
<line x1="283" y1="219.25" x2="288" y2="240.5" stroke="#163c85" stroke-width="1.2"/>
<line x1="335" y1="219.25" x2="330" y2="240.5" stroke="#163c85" stroke-width="1.2"/>
<rect x="295.5" y="210.5" width="29.25" height="8.75" rx="0" fill="#bbcdeb" stroke="#163c85" stroke-width="1.8" />
<line x1="309.75" y1="210.5" x2="309.75" y2="219.25" stroke="#163c85" stroke-width="1.2"/>
<rect x="393" y="660" width="31.5" height="148.5" rx="0" fill="#bbcdeb" stroke="#163c85" stroke-width="1.8" />
<path d="M404 684H412V800L408 804L404 800Z" fill="#fcfcfd" stroke="#163c85" stroke-width="1.4" stroke-linejoin="round" />
<path d="M401 800H415L408 806Z" fill="#163c85" stroke="#163c85" stroke-width="0" stroke-linejoin="round" />
<circle cx="394.8" cy="411.3" r="39.5" fill="#bbcdeb" stroke="#163c85" stroke-width="1.8" />
<circle cx="394.8" cy="411.3" r="30" fill="#fcfcfd" stroke="#163c85" stroke-width="1.8" />
<circle cx="394.8" cy="411.3" r="26" fill="none" stroke="#163c85" stroke-width="1.6" />
<line x1="374.6" y1="387" x2="374.6" y2="436" stroke="#163c85" stroke-width="1.4"/>
<line x1="380.3" y1="384" x2="380.3" y2="438" stroke="#163c85" stroke-width="1.4"/>
<path d="M396.46 404.09L394.47 385.19L389.7 385.69L391.68 404.59Z" fill="#e9eef8" stroke="#163c85" stroke-width="1.3" stroke-linejoin="round" />
<path d="M402.17 410.65L419.53 402.92L417.58 398.53L400.22 406.26Z" fill="#e9eef8" stroke="#163c85" stroke-width="1.3" stroke-linejoin="round" />
<path d="M397.7 418.11L410.41 432.23L413.98 429.02L401.27 414.9Z" fill="#e9eef8" stroke="#163c85" stroke-width="1.3" stroke-linejoin="round" />
<path d="M389.22 416.16L379.72 432.62L383.88 435.02L393.38 418.56Z" fill="#e9eef8" stroke="#163c85" stroke-width="1.3" stroke-linejoin="round" />
<path d="M388.45 407.5L369.87 403.55L368.87 408.24L387.45 412.19Z" fill="#e9eef8" stroke="#163c85" stroke-width="1.3" stroke-linejoin="round" />
<circle cx="394.8" cy="411.3" r="7.9" fill="#d4e0f3" stroke="#163c85" stroke-width="1.5" />
<circle cx="394.8" cy="411.3" r="2.8" fill="none" stroke="#163c85" stroke-width="1.3" />
<path d="M439.7 474.8H464.7V513.9H450L441.5 494Z" fill="#bbcdeb" stroke="#163c85" stroke-width="1.6" stroke-linejoin="round" />
<line x1="464.7" y1="477" x2="439.5" y2="494" stroke="#163c85" stroke-width="1.4"/>
<rect x="457.3" y="480.3" width="6.3" height="33.6" rx="0" fill="#d4e0f3" stroke="#163c85" stroke-width="1.5" />
<rect x="450.3" y="508.4" width="20.3" height="11.8" rx="0" fill="#bbcdeb" stroke="#163c85" stroke-width="1.5" />
<path d="M359.2 509.9A52 52 0 0 1 417.2 469.9" fill="none" stroke="#163c85" stroke-width="1.5" stroke-linejoin="round" />
<path d="M450.49 526.04L457.36 527.65L456.11 534.23L449.13 533.21L447.19 538.6L453.22 542.25L450 548.12L443.68 544.99L440.17 549.52L444.78 554.86L439.9 559.45L434.86 554.52L430.12 557.74L432.85 564.24L426.79 567.1L423.52 560.85L418.02 562.45L418.61 569.48L411.97 570.32L410.79 563.37L405.06 563.19L403.45 570.06L396.87 568.81L397.89 561.83L392.5 559.89L388.85 565.92L382.98 562.7L386.11 556.38L381.58 552.87L376.24 557.48L371.65 552.6L376.58 547.56L373.36 542.82L366.86 545.55L364 539.49L370.25 536.22L368.65 530.72L361.62 531.31L360.78 524.67L367.73 523.49L367.91 517.76L361.04 516.15L362.29 509.57L369.27 510.59L371.21 505.2L365.18 501.55L368.4 495.68L374.72 498.81L378.23 494.28L373.62 488.94L378.5 484.35L383.54 489.28L388.28 486.06L385.55 479.56L391.61 476.7L394.88 482.95L400.38 481.35L399.79 474.32L406.43 473.48L407.61 480.43L413.34 480.61L414.95 473.74L421.53 474.99L420.51 481.97L425.9 483.91L429.55 477.88L435.42 481.1L432.29 487.42L436.82 490.93L442.16 486.32L446.75 491.2L441.82 496.24L445.04 500.98L451.54 498.25L454.4 504.31L448.15 507.58L449.75 513.08L456.78 512.49L457.62 519.13L450.67 520.31Z" fill="#bbcdeb" stroke="#163c85" stroke-width="1.6" stroke-linejoin="round" />
<circle cx="409.2" cy="521.9" r="33.3" fill="none" stroke="#163c85" stroke-width="1.6" />
<circle cx="409.2" cy="521.9" r="29.5" fill="none" stroke="#163c85" stroke-width="1.3" />
<circle cx="409.2" cy="521.9" r="15.5" fill="none" stroke="#163c85" stroke-width="1.6" />
<circle cx="409.2" cy="521.9" r="13.5" fill="#fcfcfd" stroke="#163c85" stroke-width="1.6" />
<line x1="409.2" y1="488.9" x2="409.2" y2="508.4" stroke="#163c85" stroke-width="1.4"/>
<line x1="409.2" y1="535.4" x2="409.2" y2="554.9" stroke="#163c85" stroke-width="1.4"/>
<line x1="376" y1="521.9" x2="395.7" y2="521.9" stroke="#163c85" stroke-width="1.4"/>
<line x1="422.7" y1="521.9" x2="442.4" y2="521.9" stroke="#163c85" stroke-width="1.4"/>
<path d="M450.49 626.94L457.36 628.55L456.11 635.13L449.13 634.11L447.19 639.5L453.22 643.15L450 649.02L443.68 645.89L440.17 650.42L444.78 655.76L439.9 660.35L434.86 655.42L430.12 658.64L432.85 665.14L426.79 668L423.52 661.75L418.02 663.35L418.61 670.38L411.97 671.22L410.79 664.27L405.06 664.09L403.45 670.96L396.87 669.71L397.89 662.73L392.5 660.79L388.85 666.82L382.98 663.6L386.11 657.28L381.58 653.77L376.24 658.38L371.65 653.5L376.58 648.46L373.36 643.72L366.86 646.45L364 640.39L370.25 637.12L368.65 631.62L361.62 632.21L360.78 625.57L367.73 624.39L367.91 618.66L361.04 617.05L362.29 610.47L369.27 611.49L371.21 606.1L365.18 602.45L368.4 596.58L374.72 599.71L378.23 595.18L373.62 589.84L378.5 585.25L383.54 590.18L388.28 586.96L385.55 580.46L391.61 577.6L394.88 583.85L400.38 582.25L399.79 575.22L406.43 574.38L407.61 581.33L413.34 581.51L414.95 574.64L421.53 575.89L420.51 582.87L425.9 584.81L429.55 578.78L435.42 582L432.29 588.32L436.82 591.83L442.16 587.22L446.75 592.1L441.82 597.14L445.04 601.88L451.54 599.15L454.4 605.21L448.15 608.48L449.75 613.98L456.78 613.39L457.62 620.03L450.67 621.21Z" fill="#bbcdeb" stroke="#163c85" stroke-width="1.6" stroke-linejoin="round" />
<circle cx="409.2" cy="622.8" r="33.3" fill="none" stroke="#163c85" stroke-width="1.6" />
<circle cx="409.2" cy="622.8" r="29.5" fill="none" stroke="#163c85" stroke-width="1.3" />
<circle cx="409.2" cy="622.8" r="15.5" fill="none" stroke="#163c85" stroke-width="1.6" />
<circle cx="409.2" cy="622.8" r="13.5" fill="#fcfcfd" stroke="#163c85" stroke-width="1.6" />
<line x1="409.2" y1="589.8" x2="409.2" y2="609.3" stroke="#163c85" stroke-width="1.4"/>
<line x1="409.2" y1="636.3" x2="409.2" y2="655.8" stroke="#163c85" stroke-width="1.4"/>
<line x1="376" y1="622.8" x2="395.7" y2="622.8" stroke="#163c85" stroke-width="1.4"/>
<line x1="422.7" y1="622.8" x2="442.4" y2="622.8" stroke="#163c85" stroke-width="1.4"/>
</g>
<clipPath id="rcc"><rect x="672.3" y="303" width="74.4" height="397.5"/></clipPath><g clip-path="url(#rcc)">
<path d="M672.3 303H746.7V700.5H672.3Z" fill="#e4ebf7" stroke="#163c85" stroke-width="0" stroke-linejoin="round" />
<circle cx="687.2" cy="328" r="16.5" fill="#fbfcfe" stroke="#163c85" stroke-width="1.5" />
<circle cx="730" cy="326" r="16.5" fill="#fbfcfe" stroke="#163c85" stroke-width="1.5" />
<circle cx="708" cy="338" r="16.5" fill="#fbfcfe" stroke="#163c85" stroke-width="1.5" />
<circle cx="688" cy="360" r="16.5" fill="#fbfcfe" stroke="#163c85" stroke-width="1.5" />
<circle cx="732" cy="358" r="16.5" fill="#fbfcfe" stroke="#163c85" stroke-width="1.5" />
<circle cx="688" cy="386" r="16.5" fill="#fbfcfe" stroke="#163c85" stroke-width="1.5" />
<circle cx="732" cy="396" r="16.5" fill="#fbfcfe" stroke="#163c85" stroke-width="1.5" />
<circle cx="704" cy="394" r="16.5" fill="#fbfcfe" stroke="#163c85" stroke-width="1.5" />
<circle cx="719.2" cy="414" r="16.5" fill="#fbfcfe" stroke="#163c85" stroke-width="1.5" />
<circle cx="692" cy="434" r="16.5" fill="#fbfcfe" stroke="#163c85" stroke-width="1.5" />
<circle cx="726" cy="450" r="16.5" fill="#fbfcfe" stroke="#163c85" stroke-width="1.5" />
<circle cx="692" cy="464" r="16.5" fill="#fbfcfe" stroke="#163c85" stroke-width="1.5" />
<circle cx="730" cy="496" r="16.5" fill="#fbfcfe" stroke="#163c85" stroke-width="1.5" />
<circle cx="706" cy="476" r="16.5" fill="#fbfcfe" stroke="#163c85" stroke-width="1.5" />
<circle cx="690" cy="496" r="16.5" fill="#fbfcfe" stroke="#163c85" stroke-width="1.5" />
<circle cx="700" cy="514" r="16.5" fill="#fbfcfe" stroke="#163c85" stroke-width="1.5" />
<circle cx="720" cy="532" r="16.5" fill="#fbfcfe" stroke="#163c85" stroke-width="1.5" />
<circle cx="688" cy="540" r="16.5" fill="#fbfcfe" stroke="#163c85" stroke-width="1.5" />
<circle cx="730" cy="556" r="16.5" fill="#fbfcfe" stroke="#163c85" stroke-width="1.5" />
<circle cx="702" cy="572" r="16.5" fill="#fbfcfe" stroke="#163c85" stroke-width="1.5" />
<circle cx="728.8" cy="592" r="16.5" fill="#fbfcfe" stroke="#163c85" stroke-width="1.5" />
<circle cx="694" cy="598" r="16.5" fill="#fbfcfe" stroke="#163c85" stroke-width="1.5" />
<circle cx="716" cy="620" r="16.5" fill="#fbfcfe" stroke="#163c85" stroke-width="1.5" />
<circle cx="688" cy="636" r="16.5" fill="#fbfcfe" stroke="#163c85" stroke-width="1.5" />
<circle cx="726" cy="648" r="16.5" fill="#fbfcfe" stroke="#163c85" stroke-width="1.5" />
<circle cx="700" cy="668" r="16.5" fill="#fbfcfe" stroke="#163c85" stroke-width="1.5" />
<circle cx="688" cy="686" r="16.5" fill="#fbfcfe" stroke="#163c85" stroke-width="1.5" />
<circle cx="726" cy="684" r="16.5" fill="#fbfcfe" stroke="#163c85" stroke-width="1.5" />
<circle cx="695.2" cy="392.8" r="3.6" fill="#163c85" stroke="#163c85" stroke-width="0" />
<circle cx="691" cy="465" r="3.4" fill="#163c85" stroke="#163c85" stroke-width="0" />
<circle cx="702" cy="474" r="3.4" fill="#163c85" stroke="#163c85" stroke-width="0" />
<circle cx="708.8" cy="484.8" r="3.6" fill="#163c85" stroke="#163c85" stroke-width="0" />
<circle cx="730" cy="506.8" r="4" fill="#163c85" stroke="#163c85" stroke-width="0" />
<circle cx="698" cy="491" r="3.2" fill="#163c85" stroke="#163c85" stroke-width="0" />
<circle cx="690" cy="512" r="3.4" fill="#163c85" stroke="#163c85" stroke-width="0" />
<circle cx="694" cy="544.8" r="3.2" fill="#163c85" stroke="#163c85" stroke-width="0" />
<circle cx="692" cy="598" r="4.6" fill="#163c85" stroke="#163c85" stroke-width="0" />
<circle cx="723.2" cy="585.2" r="3.4" fill="#163c85" stroke="#163c85" stroke-width="0" />
<circle cx="687.96" cy="337.87" r="0.8" fill="#163c85" stroke="#163c85" stroke-width="0" />
<circle cx="680.07" cy="335.62" r="0.8" fill="#163c85" stroke="#163c85" stroke-width="0" />
<circle cx="683.26" cy="324.04" r="0.8" fill="#163c85" stroke="#163c85" stroke-width="0" />
<circle cx="699.69" cy="329.04" r="0.8" fill="#163c85" stroke="#163c85" stroke-width="0" />
<circle cx="729.59" cy="333.1" r="0.8" fill="#163c85" stroke="#163c85" stroke-width="0" />
<circle cx="739.23" cy="325.72" r="0.8" fill="#163c85" stroke="#163c85" stroke-width="0" />
<circle cx="734.78" cy="318.04" r="0.8" fill="#163c85" stroke="#163c85" stroke-width="0" />
<circle cx="725.91" cy="321.14" r="0.8" fill="#163c85" stroke="#163c85" stroke-width="0" />
<circle cx="699.5" cy="328.41" r="0.8" fill="#163c85" stroke="#163c85" stroke-width="0" />
<circle cx="696.45" cy="336.33" r="0.8" fill="#163c85" stroke="#163c85" stroke-width="0" />
<circle cx="705.35" cy="333.1" r="0.8" fill="#163c85" stroke="#163c85" stroke-width="0" />
<circle cx="708.51" cy="327.69" r="0.8" fill="#163c85" stroke="#163c85" stroke-width="0" />
<circle cx="686.33" cy="365.01" r="0.8" fill="#163c85" stroke="#163c85" stroke-width="0" />
<circle cx="694.12" cy="353.06" r="0.8" fill="#163c85" stroke="#163c85" stroke-width="0" />
<circle cx="685.46" cy="347.34" r="0.8" fill="#163c85" stroke="#163c85" stroke-width="0" />
<circle cx="685" cy="347.05" r="0.8" fill="#163c85" stroke="#163c85" stroke-width="0" />
<circle cx="722.36" cy="365.5" r="0.8" fill="#163c85" stroke="#163c85" stroke-width="0" />
<circle cx="719.39" cy="362.59" r="0.8" fill="#163c85" stroke="#163c85" stroke-width="0" />
<circle cx="736.24" cy="353.93" r="0.8" fill="#163c85" stroke="#163c85" stroke-width="0" />
<circle cx="736.57" cy="363.24" r="0.8" fill="#163c85" stroke="#163c85" stroke-width="0" />
<circle cx="696.71" cy="384.05" r="0.8" fill="#163c85" stroke="#163c85" stroke-width="0" />
<circle cx="682.59" cy="380.5" r="0.8" fill="#163c85" stroke="#163c85" stroke-width="0" />
<circle cx="679.54" cy="385.63" r="0.8" fill="#163c85" stroke="#163c85" stroke-width="0" />
<circle cx="681.93" cy="394.28" r="0.8" fill="#163c85" stroke="#163c85" stroke-width="0" />
<circle cx="720.65" cy="389.39" r="0.8" fill="#163c85" stroke="#163c85" stroke-width="0" />
<circle cx="726.44" cy="383.85" r="0.8" fill="#163c85" stroke="#163c85" stroke-width="0" />
<circle cx="740.6" cy="385.05" r="0.8" fill="#163c85" stroke="#163c85" stroke-width="0" />
<circle cx="728.92" cy="390.31" r="0.8" fill="#163c85" stroke="#163c85" stroke-width="0" />
<circle cx="712.73" cy="383.47" r="0.8" fill="#163c85" stroke="#163c85" stroke-width="0" />
<circle cx="712.34" cy="388.27" r="0.8" fill="#163c85" stroke="#163c85" stroke-width="0" />
<circle cx="702.43" cy="387.28" r="0.8" fill="#163c85" stroke="#163c85" stroke-width="0" />
<circle cx="708.96" cy="385.13" r="0.8" fill="#163c85" stroke="#163c85" stroke-width="0" />
<circle cx="717.99" cy="419.44" r="0.8" fill="#163c85" stroke="#163c85" stroke-width="0" />
<circle cx="727.62" cy="402.93" r="0.8" fill="#163c85" stroke="#163c85" stroke-width="0" />
<circle cx="729.57" cy="420.44" r="0.8" fill="#163c85" stroke="#163c85" stroke-width="0" />
<circle cx="713.83" cy="417.4" r="0.8" fill="#163c85" stroke="#163c85" stroke-width="0" />
<circle cx="688.77" cy="445.47" r="0.8" fill="#163c85" stroke="#163c85" stroke-width="0" />
<circle cx="695.75" cy="430.12" r="0.8" fill="#163c85" stroke="#163c85" stroke-width="0" />
<circle cx="687.93" cy="430.45" r="0.8" fill="#163c85" stroke="#163c85" stroke-width="0" />
<circle cx="690.41" cy="426.18" r="0.8" fill="#163c85" stroke="#163c85" stroke-width="0" />
<circle cx="736.11" cy="440.56" r="0.8" fill="#163c85" stroke="#163c85" stroke-width="0" />
<circle cx="712.02" cy="449.55" r="0.8" fill="#163c85" stroke="#163c85" stroke-width="0" />
<circle cx="723.92" cy="455.3" r="0.8" fill="#163c85" stroke="#163c85" stroke-width="0" />
<circle cx="721.72" cy="446.91" r="0.8" fill="#163c85" stroke="#163c85" stroke-width="0" />
<circle cx="694.82" cy="472.2" r="0.8" fill="#163c85" stroke="#163c85" stroke-width="0" />
<circle cx="687.07" cy="459.91" r="0.8" fill="#163c85" stroke="#163c85" stroke-width="0" />
<circle cx="704.36" cy="467.37" r="0.8" fill="#163c85" stroke="#163c85" stroke-width="0" />
<circle cx="686.69" cy="476.55" r="0.8" fill="#163c85" stroke="#163c85" stroke-width="0" />
<circle cx="736.68" cy="490.9" r="0.8" fill="#163c85" stroke="#163c85" stroke-width="0" />
<circle cx="720.62" cy="498.4" r="0.8" fill="#163c85" stroke="#163c85" stroke-width="0" />
<circle cx="723.58" cy="487.87" r="0.8" fill="#163c85" stroke="#163c85" stroke-width="0" />
<circle cx="720.14" cy="492.17" r="0.8" fill="#163c85" stroke="#163c85" stroke-width="0" />
<circle cx="714.89" cy="472.49" r="0.8" fill="#163c85" stroke="#163c85" stroke-width="0" />
<circle cx="695.58" cy="480.83" r="0.8" fill="#163c85" stroke="#163c85" stroke-width="0" />
<circle cx="706.6" cy="483.69" r="0.8" fill="#163c85" stroke="#163c85" stroke-width="0" />
<circle cx="715.59" cy="474.62" r="0.8" fill="#163c85" stroke="#163c85" stroke-width="0" />
<circle cx="685.13" cy="494.48" r="0.8" fill="#163c85" stroke="#163c85" stroke-width="0" />
<circle cx="681.2" cy="501.2" r="0.8" fill="#163c85" stroke="#163c85" stroke-width="0" />
<circle cx="700.46" cy="497.32" r="0.8" fill="#163c85" stroke="#163c85" stroke-width="0" />
<circle cx="686.25" cy="491.92" r="0.8" fill="#163c85" stroke="#163c85" stroke-width="0" />
<circle cx="693.58" cy="507.42" r="0.8" fill="#163c85" stroke="#163c85" stroke-width="0" />
<circle cx="696.47" cy="506.63" r="0.8" fill="#163c85" stroke="#163c85" stroke-width="0" />
<circle cx="696.86" cy="502.79" r="0.8" fill="#163c85" stroke="#163c85" stroke-width="0" />
<circle cx="705.49" cy="514.77" r="0.8" fill="#163c85" stroke="#163c85" stroke-width="0" />
<circle cx="713.85" cy="519.79" r="0.8" fill="#163c85" stroke="#163c85" stroke-width="0" />
<circle cx="719.94" cy="541.11" r="0.8" fill="#163c85" stroke="#163c85" stroke-width="0" />
<circle cx="713.41" cy="527.68" r="0.8" fill="#163c85" stroke="#163c85" stroke-width="0" />
<circle cx="714.88" cy="537.9" r="0.8" fill="#163c85" stroke="#163c85" stroke-width="0" />
<circle cx="680.96" cy="547.6" r="0.8" fill="#163c85" stroke="#163c85" stroke-width="0" />
<circle cx="685.39" cy="547.98" r="0.8" fill="#163c85" stroke="#163c85" stroke-width="0" />
<circle cx="688.72" cy="534.81" r="0.8" fill="#163c85" stroke="#163c85" stroke-width="0" />
<circle cx="677.46" cy="535.12" r="0.8" fill="#163c85" stroke="#163c85" stroke-width="0" />
<circle cx="727.43" cy="562.51" r="0.8" fill="#163c85" stroke="#163c85" stroke-width="0" />
<circle cx="732.35" cy="549.25" r="0.8" fill="#163c85" stroke="#163c85" stroke-width="0" />
<circle cx="733.42" cy="564.23" r="0.8" fill="#163c85" stroke="#163c85" stroke-width="0" />
<circle cx="728.09" cy="550.4" r="0.8" fill="#163c85" stroke="#163c85" stroke-width="0" />
<circle cx="698.51" cy="579.2" r="0.8" fill="#163c85" stroke="#163c85" stroke-width="0" />
<circle cx="706.46" cy="564.25" r="0.8" fill="#163c85" stroke="#163c85" stroke-width="0" />
<circle cx="706" cy="566.85" r="0.8" fill="#163c85" stroke="#163c85" stroke-width="0" />
<circle cx="696.39" cy="581.29" r="0.8" fill="#163c85" stroke="#163c85" stroke-width="0" />
<circle cx="735.58" cy="585.99" r="0.8" fill="#163c85" stroke="#163c85" stroke-width="0" />
<circle cx="729.76" cy="598.01" r="0.8" fill="#163c85" stroke="#163c85" stroke-width="0" />
<circle cx="722.2" cy="590.77" r="0.8" fill="#163c85" stroke="#163c85" stroke-width="0" />
<circle cx="733.15" cy="580.23" r="0.8" fill="#163c85" stroke="#163c85" stroke-width="0" />
<circle cx="697.05" cy="604.86" r="0.8" fill="#163c85" stroke="#163c85" stroke-width="0" />
<circle cx="697.77" cy="587.9" r="0.8" fill="#163c85" stroke="#163c85" stroke-width="0" />
<circle cx="696.79" cy="590.39" r="0.8" fill="#163c85" stroke="#163c85" stroke-width="0" />
<circle cx="699.23" cy="603.55" r="0.8" fill="#163c85" stroke="#163c85" stroke-width="0" />
<circle cx="718.01" cy="612.84" r="0.8" fill="#163c85" stroke="#163c85" stroke-width="0" />
<circle cx="711.03" cy="627.2" r="0.8" fill="#163c85" stroke="#163c85" stroke-width="0" />
<circle cx="708.4" cy="624.21" r="0.8" fill="#163c85" stroke="#163c85" stroke-width="0" />
<circle cx="721.61" cy="616.92" r="0.8" fill="#163c85" stroke="#163c85" stroke-width="0" />
<circle cx="701.48" cy="636.39" r="0.8" fill="#163c85" stroke="#163c85" stroke-width="0" />
<circle cx="698.09" cy="626.47" r="0.8" fill="#163c85" stroke="#163c85" stroke-width="0" />
<circle cx="675.59" cy="641.45" r="0.8" fill="#163c85" stroke="#163c85" stroke-width="0" />
<circle cx="694.27" cy="632.9" r="0.8" fill="#163c85" stroke="#163c85" stroke-width="0" />
<circle cx="725.62" cy="635.48" r="0.8" fill="#163c85" stroke="#163c85" stroke-width="0" />
<circle cx="720.95" cy="639.75" r="0.8" fill="#163c85" stroke="#163c85" stroke-width="0" />
<circle cx="724.05" cy="655.83" r="0.8" fill="#163c85" stroke="#163c85" stroke-width="0" />
<circle cx="726.8" cy="653.56" r="0.8" fill="#163c85" stroke="#163c85" stroke-width="0" />
<circle cx="693.56" cy="664" r="0.8" fill="#163c85" stroke="#163c85" stroke-width="0" />
<circle cx="701.98" cy="662.97" r="0.8" fill="#163c85" stroke="#163c85" stroke-width="0" />
<circle cx="709.23" cy="661.57" r="0.8" fill="#163c85" stroke="#163c85" stroke-width="0" />
<circle cx="711.58" cy="661.95" r="0.8" fill="#163c85" stroke="#163c85" stroke-width="0" />
<circle cx="696.22" cy="679.97" r="0.8" fill="#163c85" stroke="#163c85" stroke-width="0" />
<circle cx="699.67" cy="686.97" r="0.8" fill="#163c85" stroke="#163c85" stroke-width="0" />
<circle cx="691.64" cy="692.79" r="0.8" fill="#163c85" stroke="#163c85" stroke-width="0" />
<circle cx="682.92" cy="677.71" r="0.8" fill="#163c85" stroke="#163c85" stroke-width="0" />
<circle cx="714.49" cy="690.95" r="0.8" fill="#163c85" stroke="#163c85" stroke-width="0" />
<circle cx="719.84" cy="678.78" r="0.8" fill="#163c85" stroke="#163c85" stroke-width="0" />
<circle cx="725.81" cy="696.75" r="0.8" fill="#163c85" stroke="#163c85" stroke-width="0" />
<circle cx="714.09" cy="685.74" r="0.8" fill="#163c85" stroke="#163c85" stroke-width="0" />
</g>
<line x1="703.5" y1="303" x2="703.5" y2="700.5" stroke="#163c85" stroke-width="1.4"/>
<line x1="716" y1="303" x2="716" y2="700.5" stroke="#163c85" stroke-width="1.4"/>
<rect x="577.5" y="808.5" width="232" height="8" rx="0" fill="#fdfdfe" stroke="#163c85" stroke-width="1.8" />
<path d="M567.5 816.5H822C822 826 824.5 831 828.5 834.5H563.5C566.5 831 567.5 826 567.5 816.5Z" fill="#bbcdeb" stroke="#163c85" stroke-width="1.8" stroke-linejoin="round" />
<line x1="562" y1="834.5" x2="833" y2="834.5" stroke="#163c85" stroke-width="1.8"/>
<clipPath id="p511"><rect x="0" y="0" width="260.4" height="1024"/></clipPath><g clip-path="url(#p511)">
<circle cx="222.5" cy="560" r="49.5" fill="#bbcdeb" stroke="#163c85" stroke-width="1.8" />
<circle cx="222.5" cy="560" r="42" fill="none" stroke="#163c85" stroke-width="1.5" />
<circle cx="222.5" cy="560" r="37" fill="none" stroke="#163c85" stroke-width="1.5" />
<circle cx="222.5" cy="560" r="20.5" fill="none" stroke="#163c85" stroke-width="1.5" />
<circle cx="222.5" cy="560" r="14" fill="#d4e0f3" stroke="#163c85" stroke-width="1.5" />
<line x1="222.5" y1="510" x2="222.5" y2="610" stroke="#163c85" stroke-width="1.2"/>
<line x1="185" y1="561" x2="260" y2="561" stroke="#163c85" stroke-width="0.8"/>
<circle cx="213.7" cy="527.3" r="1.8" fill="none" stroke="#163c85" stroke-width="1.1" />
<circle cx="213.7" cy="590" r="1.8" fill="none" stroke="#163c85" stroke-width="1.1" />
</g>
<line x1="260.4" y1="505" x2="260.4" y2="615" stroke="#163c85" stroke-width="1.8"/>
<rect x="221.5" y="600" width="20.5" height="23.6" rx="0" fill="#bbcdeb" stroke="#163c85" stroke-width="1.8" />
<clipPath id="t524"><path d="M136 491.6H216.5V511.5H136Z"/></clipPath>
<path d="M136 491.6H216.5V511.5H136Z" fill="#bbcdeb"/>
<path d="M136 491.6H216.5V511.5H136Z" fill="none" stroke="#fdfdfe" stroke-width="6" clip-path="url(#t524)"/>
<path d="M136 491.6H216.5V511.5H136Z" fill="none" stroke="#163c85" stroke-width="1.8" stroke-linejoin="round"/>
<line x1="166" y1="492" x2="166" y2="500" stroke="#163c85" stroke-width="1.4"/>
<rect x="216.25" y="488.8" width="5.85" height="25.4" rx="0" fill="#bbcdeb" stroke="#163c85" stroke-width="1.8" />
<path d="M129.8 484.5Q131.5 491.6 137 491.6V511.5Q131.5 511.5 129.8 518Z" fill="#bbcdeb" stroke="#163c85" stroke-width="1.5" stroke-linejoin="round" />
<g transform="translate(1019 0) scale(-1 1)">
<clipPath id="p532"><rect x="0" y="0" width="260.4" height="1024"/></clipPath><g clip-path="url(#p532)">
<circle cx="222.5" cy="560" r="49.5" fill="#bbcdeb" stroke="#163c85" stroke-width="1.8" />
<circle cx="222.5" cy="560" r="43" fill="none" stroke="#163c85" stroke-width="1.5" />
<circle cx="222.5" cy="560" r="37" fill="none" stroke="#163c85" stroke-width="1.5" />
<circle cx="222.5" cy="560" r="30" fill="none" stroke="#163c85" stroke-width="1.5" />
<circle cx="222.5" cy="560" r="21.5" fill="none" stroke="#163c85" stroke-width="1.5" />
<circle cx="222.5" cy="560" r="15" fill="#d4e0f3" stroke="#163c85" stroke-width="1.5" />
<line x1="222.5" y1="510" x2="222.5" y2="610" stroke="#163c85" stroke-width="1.2"/>
<line x1="185" y1="561" x2="260" y2="561" stroke="#163c85" stroke-width="0.8"/>
<circle cx="213.7" cy="527.3" r="1.8" fill="none" stroke="#163c85" stroke-width="1.1" />
<circle cx="213.7" cy="590" r="1.8" fill="none" stroke="#163c85" stroke-width="1.1" />
</g>
<line x1="260.4" y1="505" x2="260.4" y2="615" stroke="#163c85" stroke-width="1.8"/>
<rect x="221.5" y="600" width="20.5" height="23.6" rx="0" fill="#bbcdeb" stroke="#163c85" stroke-width="1.8" />
<clipPath id="t546"><path d="M136 491.6H216.5V511.5H136Z"/></clipPath>
<path d="M136 491.6H216.5V511.5H136Z" fill="#bbcdeb"/>
<path d="M136 491.6H216.5V511.5H136Z" fill="none" stroke="#fdfdfe" stroke-width="6" clip-path="url(#t546)"/>
<path d="M136 491.6H216.5V511.5H136Z" fill="none" stroke="#163c85" stroke-width="1.8" stroke-linejoin="round"/>
<line x1="166" y1="492" x2="166" y2="500" stroke="#163c85" stroke-width="1.4"/>
<rect x="216.25" y="488.8" width="5.85" height="25.4" rx="0" fill="#bbcdeb" stroke="#163c85" stroke-width="1.8" />
<path d="M129.8 484.5Q131.5 491.6 137 491.6V511.5Q131.5 511.5 129.8 518Z" fill="#bbcdeb" stroke="#163c85" stroke-width="1.5" stroke-linejoin="round" />
</g>
<clipPath id="t554"><path d="M104.5 176V158Q104.5 136.75 126 136.75H298Q320 136.75 320 158.75V211H296V168Q296 158.6 286.6 158.6H132.5V176Q118.5 180 104.5 176Z"/></clipPath>
<path d="M104.5 176V158Q104.5 136.75 126 136.75H298Q320 136.75 320 158.75V211H296V168Q296 158.6 286.6 158.6H132.5V176Q118.5 180 104.5 176Z" fill="#bbcdeb"/>
<path d="M104.5 176V158Q104.5 136.75 126 136.75H298Q320 136.75 320 158.75V211H296V168Q296 158.6 286.6 158.6H132.5V176Q118.5 180 104.5 176Z" fill="none" stroke="#fdfdfe" stroke-width="6.5" clip-path="url(#t554)"/>
<path d="M104.5 176V158Q104.5 136.75 126 136.75H298Q320 136.75 320 158.75V211H296V168Q296 158.6 286.6 158.6H132.5V176Q118.5 180 104.5 176Z" fill="none" stroke="#163c85" stroke-width="1.8" stroke-linejoin="round"/>
<clipPath id="t558"><path d="M106.2 808V864A31 31 0 0 0 137.2 895H291.5A31 31 0 0 0 322.5 864V834.5H299V859A13 13 0 0 1 286 872H144.2A13 13 0 0 1 131.2 859V808Z"/></clipPath>
<path d="M106.2 808V864A31 31 0 0 0 137.2 895H291.5A31 31 0 0 0 322.5 864V834.5H299V859A13 13 0 0 1 286 872H144.2A13 13 0 0 1 131.2 859V808Z" fill="#bbcdeb"/>
<path d="M106.2 808V864A31 31 0 0 0 137.2 895H291.5A31 31 0 0 0 322.5 864V834.5H299V859A13 13 0 0 1 286 872H144.2A13 13 0 0 1 131.2 859V808Z" fill="none" stroke="#fdfdfe" stroke-width="6.5" clip-path="url(#t558)"/>
<path d="M106.2 808V864A31 31 0 0 0 137.2 895H291.5A31 31 0 0 0 322.5 864V834.5H299V859A13 13 0 0 1 286 872H144.2A13 13 0 0 1 131.2 859V808Z" fill="none" stroke="#163c85" stroke-width="1.8" stroke-linejoin="round"/>
<clipPath id="t562"><path d="M106.2 463H129.8V543H106.2Z"/></clipPath>
<path d="M106.2 463H129.8V543H106.2Z" fill="#bbcdeb"/>
<path d="M106.2 463H129.8V543H106.2Z" fill="none" stroke="#fdfdfe" stroke-width="7.4" clip-path="url(#t562)"/>
<path d="M106.2 463H129.8V543H106.2Z" fill="none" stroke="#163c85" stroke-width="1.8" stroke-linejoin="round"/>
<g transform="translate(1019 0) scale(-1 1)">
<clipPath id="t567"><path d="M104.5 176V158Q104.5 136.75 126 136.75H298Q320 136.75 320 158.75V211H296V168Q296 158.6 286.6 158.6H132.5V176Q118.5 180 104.5 176Z"/></clipPath>
<path d="M104.5 176V158Q104.5 136.75 126 136.75H298Q320 136.75 320 158.75V211H296V168Q296 158.6 286.6 158.6H132.5V176Q118.5 180 104.5 176Z" fill="#bbcdeb"/>
<path d="M104.5 176V158Q104.5 136.75 126 136.75H298Q320 136.75 320 158.75V211H296V168Q296 158.6 286.6 158.6H132.5V176Q118.5 180 104.5 176Z" fill="none" stroke="#fdfdfe" stroke-width="6.5" clip-path="url(#t567)"/>
<path d="M104.5 176V158Q104.5 136.75 126 136.75H298Q320 136.75 320 158.75V211H296V168Q296 158.6 286.6 158.6H132.5V176Q118.5 180 104.5 176Z" fill="none" stroke="#163c85" stroke-width="1.8" stroke-linejoin="round"/>
<clipPath id="t571"><path d="M106.2 808V864A31 31 0 0 0 137.2 895H291.5A31 31 0 0 0 322.5 864V834.5H299V859A13 13 0 0 1 286 872H144.2A13 13 0 0 1 131.2 859V808Z"/></clipPath>
<path d="M106.2 808V864A31 31 0 0 0 137.2 895H291.5A31 31 0 0 0 322.5 864V834.5H299V859A13 13 0 0 1 286 872H144.2A13 13 0 0 1 131.2 859V808Z" fill="#bbcdeb"/>
<path d="M106.2 808V864A31 31 0 0 0 137.2 895H291.5A31 31 0 0 0 322.5 864V834.5H299V859A13 13 0 0 1 286 872H144.2A13 13 0 0 1 131.2 859V808Z" fill="none" stroke="#fdfdfe" stroke-width="6.5" clip-path="url(#t571)"/>
<path d="M106.2 808V864A31 31 0 0 0 137.2 895H291.5A31 31 0 0 0 322.5 864V834.5H299V859A13 13 0 0 1 286 872H144.2A13 13 0 0 1 131.2 859V808Z" fill="none" stroke="#163c85" stroke-width="1.8" stroke-linejoin="round"/>
</g>
<clipPath id="t576"><path d="M889.2 462.75H912.8V542.75H889.2Z"/></clipPath>
<path d="M889.2 462.75H912.8V542.75H889.2Z" fill="#bbcdeb"/>
<path d="M889.2 462.75H912.8V542.75H889.2Z" fill="none" stroke="#fdfdfe" stroke-width="7.4" clip-path="url(#t576)"/>
<path d="M889.2 462.75H912.8V542.75H889.2Z" fill="none" stroke="#163c85" stroke-width="1.8" stroke-linejoin="round"/>
<path d="M78.4 436.25L91 446.5H145L157.1 436.25Z" fill="#fdfdfe" stroke="#163c85" stroke-width="1.8" stroke-linejoin="round" />
<rect x="92.5" y="446.5" width="50.5" height="16.5" rx="0" fill="#fdfdfe" stroke="#163c85" stroke-width="1.8" />
<rect x="97" y="450" width="42" height="9.5" rx="0" fill="#d4e0f3" stroke="#163c85" stroke-width="0" />
<path d="M42.5 176.3V406.5C42.5 418 60 427 78.4 436.25Q117.75 447.75 157.1 436.25C175.5 427 193 418 193 406.5V176.3A75.25 18.2 0 0 0 42.5 176.3Z" fill="#fdfdfe" stroke="#163c85" stroke-width="1.8" stroke-linejoin="round" />
<clipPath id="c584"><path d="M42.5 176.3V406.5C42.5 418 60 427 78.4 436.25Q117.75 447.75 157.1 436.25C175.5 427 193 418 193 406.5V176.3A75.25 18.2 0 0 0 42.5 176.3Z"/></clipPath>
<path d="M2.23 0V1024M21.12 0V1024M40.02 0V1024M58.91 0V1024M77.81 0V1024M96.7 0V1024M115.6 0V1024M134.49 0V1024M153.39 0V1024M172.28 0V1024M191.18 0V1024M210.07 0V1024M228.97 0V1024M247.86 0V1024M266.76 0V1024M285.66 0V1024M304.55 0V1024M323.44 0V1024M342.34 0V1024M361.24 0V1024M380.13 0V1024M399.03 0V1024M417.92 0V1024M436.81 0V1024M455.71 0V1024M474.61 0V1024M493.5 0V1024M512.39 0V1024M531.29 0V1024M550.19 0V1024M569.08 0V1024M587.98 0V1024M606.87 0V1024M625.76 0V1024M644.66 0V1024M663.55 0V1024M682.45 0V1024M701.35 0V1024M720.24 0V1024M739.13 0V1024M758.03 0V1024M776.92 0V1024M795.82 0V1024M814.72 0V1024M833.61 0V1024M852.5 0V1024M871.4 0V1024M890.29 0V1024M909.19 0V1024M928.09 0V1024M946.98 0V1024M965.88 0V1024M984.77 0V1024M1003.66 0V1024M1022.56 0V1024M0 0.4H1024M0 19.36H1024M0 38.32H1024M0 57.28H1024M0 76.24H1024M0 95.2H1024M0 114.17H1024M0 133.13H1024M0 152.09H1024M0 171.05H1024M0 190.01H1024M0 208.97H1024M0 227.93H1024M0 246.89H1024M0 265.85H1024M0 284.81H1024M0 303.78H1024M0 322.74H1024M0 341.7H1024M0 360.66H1024M0 379.62H1024M0 398.58H1024M0 417.54H1024M0 436.5H1024M0 455.46H1024M0 474.42H1024M0 493.39H1024M0 512.35H1024M0 531.31H1024M0 550.27H1024M0 569.23H1024M0 588.19H1024M0 607.15H1024M0 626.11H1024M0 645.07H1024M0 664.03H1024M0 683H1024M0 701.96H1024M0 720.92H1024M0 739.88H1024M0 758.84H1024M0 777.8H1024M0 796.76H1024M0 815.72H1024M0 834.68H1024M0 853.64H1024M0 872.61H1024M0 891.57H1024M0 910.53H1024M0 929.49H1024M0 948.45H1024M0 967.41H1024M0 986.37H1024M0 1005.33H1024M0 1024.29H1024" stroke="#e8eaee" stroke-width="1.1" fill="none" clip-path="url(#c584)"/>
<clipPath id="q584"><path d="M40 252C55 256 65 259 80 258C110 255 140 240 165 241C175 242 185 245 196 246V460H40Z"/></clipPath>
<g clip-path="url(#c584)"><path d="M40 252C55 256 65 259 80 258C110 255 140 240 165 241C175 242 185 245 196 246V460H40Z" fill="#bbcdeb"/><path d="M2.23 0V1024M21.12 0V1024M40.02 0V1024M58.91 0V1024M77.81 0V1024M96.7 0V1024M115.6 0V1024M134.49 0V1024M153.39 0V1024M172.28 0V1024M191.18 0V1024M210.07 0V1024M228.97 0V1024M247.86 0V1024M266.76 0V1024M285.66 0V1024M304.55 0V1024M323.44 0V1024M342.34 0V1024M361.24 0V1024M380.13 0V1024M399.03 0V1024M417.92 0V1024M436.81 0V1024M455.71 0V1024M474.61 0V1024M493.5 0V1024M512.39 0V1024M531.29 0V1024M550.19 0V1024M569.08 0V1024M587.98 0V1024M606.87 0V1024M625.76 0V1024M644.66 0V1024M663.55 0V1024M682.45 0V1024M701.35 0V1024M720.24 0V1024M739.13 0V1024M758.03 0V1024M776.92 0V1024M795.82 0V1024M814.72 0V1024M833.61 0V1024M852.5 0V1024M871.4 0V1024M890.29 0V1024M909.19 0V1024M928.09 0V1024M946.98 0V1024M965.88 0V1024M984.77 0V1024M1003.66 0V1024M1022.56 0V1024M0 0.4H1024M0 19.36H1024M0 38.32H1024M0 57.28H1024M0 76.24H1024M0 95.2H1024M0 114.17H1024M0 133.13H1024M0 152.09H1024M0 171.05H1024M0 190.01H1024M0 208.97H1024M0 227.93H1024M0 246.89H1024M0 265.85H1024M0 284.81H1024M0 303.78H1024M0 322.74H1024M0 341.7H1024M0 360.66H1024M0 379.62H1024M0 398.58H1024M0 417.54H1024M0 436.5H1024M0 455.46H1024M0 474.42H1024M0 493.39H1024M0 512.35H1024M0 531.31H1024M0 550.27H1024M0 569.23H1024M0 588.19H1024M0 607.15H1024M0 626.11H1024M0 645.07H1024M0 664.03H1024M0 683H1024M0 701.96H1024M0 720.92H1024M0 739.88H1024M0 758.84H1024M0 777.8H1024M0 796.76H1024M0 815.72H1024M0 834.68H1024M0 853.64H1024M0 872.61H1024M0 891.57H1024M0 910.53H1024M0 929.49H1024M0 948.45H1024M0 967.41H1024M0 986.37H1024M0 1005.33H1024M0 1024.29H1024" stroke="#a9bfe3" stroke-opacity="0.45" stroke-width="1.1" fill="none" clip-path="url(#q584)"/><path d="M42.5 176.3V406.5C42.5 418 60 427 78.4 436.25Q117.75 447.75 157.1 436.25C175.5 427 193 418 193 406.5V176.3A75.25 18.2 0 0 0 42.5 176.3Z" fill="none" stroke="#fdfdfe" stroke-width="10"/></g>
<path d="M42.5 176.3V406.5C42.5 418 60 427 78.4 436.25Q117.75 447.75 157.1 436.25C175.5 427 193 418 193 406.5V176.3A75.25 18.2 0 0 0 42.5 176.3Z" fill="none" stroke="#163c85" stroke-width="1.8" stroke-linejoin="round" />
<ellipse cx="117.75" cy="176.3" rx="75.25" ry="18.2" fill="#fdfdfe" stroke="#163c85" stroke-width="1.8"/>
<rect x="99.5" y="543" width="35.5" height="13.5" rx="0" fill="#fdfdfe" stroke="#163c85" stroke-width="1.8" />
<rect x="98.75" y="795" width="38.75" height="13" rx="0" fill="#fdfdfe" stroke="#163c85" stroke-width="1.8" />
<path d="M48.6 569V754C48.6 768 72 776 90 791Q117.8 800 145.6 791C163.6 776 187 768 187 754V569A69.2 16 0 0 0 48.6 569Z" fill="#fdfdfe" stroke="#163c85" stroke-width="1.8" stroke-linejoin="round" />
<clipPath id="c593"><path d="M48.6 569V754C48.6 768 72 776 90 791Q117.8 800 145.6 791C163.6 776 187 768 187 754V569A69.2 16 0 0 0 48.6 569Z"/></clipPath>
<path d="M2.23 0V1024M21.12 0V1024M40.02 0V1024M58.91 0V1024M77.81 0V1024M96.7 0V1024M115.6 0V1024M134.49 0V1024M153.39 0V1024M172.28 0V1024M191.18 0V1024M210.07 0V1024M228.97 0V1024M247.86 0V1024M266.76 0V1024M285.66 0V1024M304.55 0V1024M323.44 0V1024M342.34 0V1024M361.24 0V1024M380.13 0V1024M399.03 0V1024M417.92 0V1024M436.81 0V1024M455.71 0V1024M474.61 0V1024M493.5 0V1024M512.39 0V1024M531.29 0V1024M550.19 0V1024M569.08 0V1024M587.98 0V1024M606.87 0V1024M625.76 0V1024M644.66 0V1024M663.55 0V1024M682.45 0V1024M701.35 0V1024M720.24 0V1024M739.13 0V1024M758.03 0V1024M776.92 0V1024M795.82 0V1024M814.72 0V1024M833.61 0V1024M852.5 0V1024M871.4 0V1024M890.29 0V1024M909.19 0V1024M928.09 0V1024M946.98 0V1024M965.88 0V1024M984.77 0V1024M1003.66 0V1024M1022.56 0V1024M0 0.4H1024M0 19.36H1024M0 38.32H1024M0 57.28H1024M0 76.24H1024M0 95.2H1024M0 114.17H1024M0 133.13H1024M0 152.09H1024M0 171.05H1024M0 190.01H1024M0 208.97H1024M0 227.93H1024M0 246.89H1024M0 265.85H1024M0 284.81H1024M0 303.78H1024M0 322.74H1024M0 341.7H1024M0 360.66H1024M0 379.62H1024M0 398.58H1024M0 417.54H1024M0 436.5H1024M0 455.46H1024M0 474.42H1024M0 493.39H1024M0 512.35H1024M0 531.31H1024M0 550.27H1024M0 569.23H1024M0 588.19H1024M0 607.15H1024M0 626.11H1024M0 645.07H1024M0 664.03H1024M0 683H1024M0 701.96H1024M0 720.92H1024M0 739.88H1024M0 758.84H1024M0 777.8H1024M0 796.76H1024M0 815.72H1024M0 834.68H1024M0 853.64H1024M0 872.61H1024M0 891.57H1024M0 910.53H1024M0 929.49H1024M0 948.45H1024M0 967.41H1024M0 986.37H1024M0 1005.33H1024M0 1024.29H1024" stroke="#e8eaee" stroke-width="1.1" fill="none" clip-path="url(#c593)"/>
<clipPath id="q593"><path d="M45 632C60 636 70 640 85 638C110 634 130 622 150 622C165 622 175 623 190 624V752C190 768 160 781 118 781C76 781 45 768 45 752Z"/></clipPath>
<g clip-path="url(#c593)"><path d="M45 632C60 636 70 640 85 638C110 634 130 622 150 622C165 622 175 623 190 624V752C190 768 160 781 118 781C76 781 45 768 45 752Z" fill="#bbcdeb"/><path d="M2.23 0V1024M21.12 0V1024M40.02 0V1024M58.91 0V1024M77.81 0V1024M96.7 0V1024M115.6 0V1024M134.49 0V1024M153.39 0V1024M172.28 0V1024M191.18 0V1024M210.07 0V1024M228.97 0V1024M247.86 0V1024M266.76 0V1024M285.66 0V1024M304.55 0V1024M323.44 0V1024M342.34 0V1024M361.24 0V1024M380.13 0V1024M399.03 0V1024M417.92 0V1024M436.81 0V1024M455.71 0V1024M474.61 0V1024M493.5 0V1024M512.39 0V1024M531.29 0V1024M550.19 0V1024M569.08 0V1024M587.98 0V1024M606.87 0V1024M625.76 0V1024M644.66 0V1024M663.55 0V1024M682.45 0V1024M701.35 0V1024M720.24 0V1024M739.13 0V1024M758.03 0V1024M776.92 0V1024M795.82 0V1024M814.72 0V1024M833.61 0V1024M852.5 0V1024M871.4 0V1024M890.29 0V1024M909.19 0V1024M928.09 0V1024M946.98 0V1024M965.88 0V1024M984.77 0V1024M1003.66 0V1024M1022.56 0V1024M0 0.4H1024M0 19.36H1024M0 38.32H1024M0 57.28H1024M0 76.24H1024M0 95.2H1024M0 114.17H1024M0 133.13H1024M0 152.09H1024M0 171.05H1024M0 190.01H1024M0 208.97H1024M0 227.93H1024M0 246.89H1024M0 265.85H1024M0 284.81H1024M0 303.78H1024M0 322.74H1024M0 341.7H1024M0 360.66H1024M0 379.62H1024M0 398.58H1024M0 417.54H1024M0 436.5H1024M0 455.46H1024M0 474.42H1024M0 493.39H1024M0 512.35H1024M0 531.31H1024M0 550.27H1024M0 569.23H1024M0 588.19H1024M0 607.15H1024M0 626.11H1024M0 645.07H1024M0 664.03H1024M0 683H1024M0 701.96H1024M0 720.92H1024M0 739.88H1024M0 758.84H1024M0 777.8H1024M0 796.76H1024M0 815.72H1024M0 834.68H1024M0 853.64H1024M0 872.61H1024M0 891.57H1024M0 910.53H1024M0 929.49H1024M0 948.45H1024M0 967.41H1024M0 986.37H1024M0 1005.33H1024M0 1024.29H1024" stroke="#a9bfe3" stroke-opacity="0.45" stroke-width="1.1" fill="none" clip-path="url(#q593)"/><path d="M48.6 569V754C48.6 768 72 776 90 791Q117.8 800 145.6 791C163.6 776 187 768 187 754V569A69.2 16 0 0 0 48.6 569Z" fill="none" stroke="#fdfdfe" stroke-width="10"/></g>
<path d="M48.6 569V754C48.6 768 72 776 90 791Q117.8 800 145.6 791C163.6 776 187 768 187 754V569A69.2 16 0 0 0 48.6 569Z" fill="none" stroke="#163c85" stroke-width="1.8" stroke-linejoin="round" />
<ellipse cx="117.8" cy="569" rx="69.2" ry="16" fill="#fdfdfe" stroke="#163c85" stroke-width="1.8"/>
<path d="M858 437L872 446.5H925.5L933.75 437Z" fill="#fdfdfe" stroke="#163c85" stroke-width="1.8" stroke-linejoin="round" />
<rect x="874" y="446.5" width="49.5" height="16.25" rx="0" fill="#fdfdfe" stroke="#163c85" stroke-width="1.8" />
<rect x="879" y="450" width="39" height="9" rx="0" fill="#d4e0f3" stroke="#163c85" stroke-width="0" />
<path d="M821.75 177V409C821.75 420.5 839.6 427.75 858 437Q895.88 447 933.75 437C952.15 427.75 970 420.5 970 409V177A74.12 18 0 0 0 821.75 177Z" fill="#fdfdfe" stroke="#163c85" stroke-width="1.8" stroke-linejoin="round" />
<clipPath id="c603"><path d="M821.75 177V409C821.75 420.5 839.6 427.75 858 437Q895.88 447 933.75 437C952.15 427.75 970 420.5 970 409V177A74.12 18 0 0 0 821.75 177Z"/></clipPath>
<path d="M2.23 0V1024M21.12 0V1024M40.02 0V1024M58.91 0V1024M77.81 0V1024M96.7 0V1024M115.6 0V1024M134.49 0V1024M153.39 0V1024M172.28 0V1024M191.18 0V1024M210.07 0V1024M228.97 0V1024M247.86 0V1024M266.76 0V1024M285.66 0V1024M304.55 0V1024M323.44 0V1024M342.34 0V1024M361.24 0V1024M380.13 0V1024M399.03 0V1024M417.92 0V1024M436.81 0V1024M455.71 0V1024M474.61 0V1024M493.5 0V1024M512.39 0V1024M531.29 0V1024M550.19 0V1024M569.08 0V1024M587.98 0V1024M606.87 0V1024M625.76 0V1024M644.66 0V1024M663.55 0V1024M682.45 0V1024M701.35 0V1024M720.24 0V1024M739.13 0V1024M758.03 0V1024M776.92 0V1024M795.82 0V1024M814.72 0V1024M833.61 0V1024M852.5 0V1024M871.4 0V1024M890.29 0V1024M909.19 0V1024M928.09 0V1024M946.98 0V1024M965.88 0V1024M984.77 0V1024M1003.66 0V1024M1022.56 0V1024M0 0.4H1024M0 19.36H1024M0 38.32H1024M0 57.28H1024M0 76.24H1024M0 95.2H1024M0 114.17H1024M0 133.13H1024M0 152.09H1024M0 171.05H1024M0 190.01H1024M0 208.97H1024M0 227.93H1024M0 246.89H1024M0 265.85H1024M0 284.81H1024M0 303.78H1024M0 322.74H1024M0 341.7H1024M0 360.66H1024M0 379.62H1024M0 398.58H1024M0 417.54H1024M0 436.5H1024M0 455.46H1024M0 474.42H1024M0 493.39H1024M0 512.35H1024M0 531.31H1024M0 550.27H1024M0 569.23H1024M0 588.19H1024M0 607.15H1024M0 626.11H1024M0 645.07H1024M0 664.03H1024M0 683H1024M0 701.96H1024M0 720.92H1024M0 739.88H1024M0 758.84H1024M0 777.8H1024M0 796.76H1024M0 815.72H1024M0 834.68H1024M0 853.64H1024M0 872.61H1024M0 891.57H1024M0 910.53H1024M0 929.49H1024M0 948.45H1024M0 967.41H1024M0 986.37H1024M0 1005.33H1024M0 1024.29H1024" stroke="#e8eaee" stroke-width="1.1" fill="none" clip-path="url(#c603)"/>
<clipPath id="q603"><path d="M820 246C840 236 870 240 900 250C930 262 950 252 975 248V470H820Z"/></clipPath>
<g clip-path="url(#c603)"><path d="M820 246C840 236 870 240 900 250C930 262 950 252 975 248V470H820Z" fill="#bbcdeb"/><path d="M2.23 0V1024M21.12 0V1024M40.02 0V1024M58.91 0V1024M77.81 0V1024M96.7 0V1024M115.6 0V1024M134.49 0V1024M153.39 0V1024M172.28 0V1024M191.18 0V1024M210.07 0V1024M228.97 0V1024M247.86 0V1024M266.76 0V1024M285.66 0V1024M304.55 0V1024M323.44 0V1024M342.34 0V1024M361.24 0V1024M380.13 0V1024M399.03 0V1024M417.92 0V1024M436.81 0V1024M455.71 0V1024M474.61 0V1024M493.5 0V1024M512.39 0V1024M531.29 0V1024M550.19 0V1024M569.08 0V1024M587.98 0V1024M606.87 0V1024M625.76 0V1024M644.66 0V1024M663.55 0V1024M682.45 0V1024M701.35 0V1024M720.24 0V1024M739.13 0V1024M758.03 0V1024M776.92 0V1024M795.82 0V1024M814.72 0V1024M833.61 0V1024M852.5 0V1024M871.4 0V1024M890.29 0V1024M909.19 0V1024M928.09 0V1024M946.98 0V1024M965.88 0V1024M984.77 0V1024M1003.66 0V1024M1022.56 0V1024M0 0.4H1024M0 19.36H1024M0 38.32H1024M0 57.28H1024M0 76.24H1024M0 95.2H1024M0 114.17H1024M0 133.13H1024M0 152.09H1024M0 171.05H1024M0 190.01H1024M0 208.97H1024M0 227.93H1024M0 246.89H1024M0 265.85H1024M0 284.81H1024M0 303.78H1024M0 322.74H1024M0 341.7H1024M0 360.66H1024M0 379.62H1024M0 398.58H1024M0 417.54H1024M0 436.5H1024M0 455.46H1024M0 474.42H1024M0 493.39H1024M0 512.35H1024M0 531.31H1024M0 550.27H1024M0 569.23H1024M0 588.19H1024M0 607.15H1024M0 626.11H1024M0 645.07H1024M0 664.03H1024M0 683H1024M0 701.96H1024M0 720.92H1024M0 739.88H1024M0 758.84H1024M0 777.8H1024M0 796.76H1024M0 815.72H1024M0 834.68H1024M0 853.64H1024M0 872.61H1024M0 891.57H1024M0 910.53H1024M0 929.49H1024M0 948.45H1024M0 967.41H1024M0 986.37H1024M0 1005.33H1024M0 1024.29H1024" stroke="#a9bfe3" stroke-opacity="0.45" stroke-width="1.1" fill="none" clip-path="url(#q603)"/><path d="M821.75 177V409C821.75 420.5 839.6 427.75 858 437Q895.88 447 933.75 437C952.15 427.75 970 420.5 970 409V177A74.12 18 0 0 0 821.75 177Z" fill="none" stroke="#fdfdfe" stroke-width="10"/></g>
<path d="M821.75 177V409C821.75 420.5 839.6 427.75 858 437Q895.88 447 933.75 437C952.15 427.75 970 420.5 970 409V177A74.12 18 0 0 0 821.75 177Z" fill="none" stroke="#163c85" stroke-width="1.8" stroke-linejoin="round" />
<ellipse cx="895.88" cy="177" rx="74.12" ry="18" fill="#fdfdfe" stroke="#163c85" stroke-width="1.8"/>
<rect x="883.5" y="542.75" width="35.75" height="13.75" rx="0" fill="#fdfdfe" stroke="#163c85" stroke-width="1.8" />
<rect x="880.5" y="796" width="38.5" height="12.5" rx="0" fill="#fdfdfe" stroke="#163c85" stroke-width="1.8" />
<path d="M831.75 569.5V756C831.75 770 856 777 874 792Q900.88 800 927.75 792C945.75 777 970 770 970 756V569.5A69.12 17 0 0 0 831.75 569.5Z" fill="#fdfdfe" stroke="#163c85" stroke-width="1.8" stroke-linejoin="round" />
<clipPath id="c612"><path d="M831.75 569.5V756C831.75 770 856 777 874 792Q900.88 800 927.75 792C945.75 777 970 770 970 756V569.5A69.12 17 0 0 0 831.75 569.5Z"/></clipPath>
<path d="M2.23 0V1024M21.12 0V1024M40.02 0V1024M58.91 0V1024M77.81 0V1024M96.7 0V1024M115.6 0V1024M134.49 0V1024M153.39 0V1024M172.28 0V1024M191.18 0V1024M210.07 0V1024M228.97 0V1024M247.86 0V1024M266.76 0V1024M285.66 0V1024M304.55 0V1024M323.44 0V1024M342.34 0V1024M361.24 0V1024M380.13 0V1024M399.03 0V1024M417.92 0V1024M436.81 0V1024M455.71 0V1024M474.61 0V1024M493.5 0V1024M512.39 0V1024M531.29 0V1024M550.19 0V1024M569.08 0V1024M587.98 0V1024M606.87 0V1024M625.76 0V1024M644.66 0V1024M663.55 0V1024M682.45 0V1024M701.35 0V1024M720.24 0V1024M739.13 0V1024M758.03 0V1024M776.92 0V1024M795.82 0V1024M814.72 0V1024M833.61 0V1024M852.5 0V1024M871.4 0V1024M890.29 0V1024M909.19 0V1024M928.09 0V1024M946.98 0V1024M965.88 0V1024M984.77 0V1024M1003.66 0V1024M1022.56 0V1024M0 0.4H1024M0 19.36H1024M0 38.32H1024M0 57.28H1024M0 76.24H1024M0 95.2H1024M0 114.17H1024M0 133.13H1024M0 152.09H1024M0 171.05H1024M0 190.01H1024M0 208.97H1024M0 227.93H1024M0 246.89H1024M0 265.85H1024M0 284.81H1024M0 303.78H1024M0 322.74H1024M0 341.7H1024M0 360.66H1024M0 379.62H1024M0 398.58H1024M0 417.54H1024M0 436.5H1024M0 455.46H1024M0 474.42H1024M0 493.39H1024M0 512.35H1024M0 531.31H1024M0 550.27H1024M0 569.23H1024M0 588.19H1024M0 607.15H1024M0 626.11H1024M0 645.07H1024M0 664.03H1024M0 683H1024M0 701.96H1024M0 720.92H1024M0 739.88H1024M0 758.84H1024M0 777.8H1024M0 796.76H1024M0 815.72H1024M0 834.68H1024M0 853.64H1024M0 872.61H1024M0 891.57H1024M0 910.53H1024M0 929.49H1024M0 948.45H1024M0 967.41H1024M0 986.37H1024M0 1005.33H1024M0 1024.29H1024" stroke="#e8eaee" stroke-width="1.1" fill="none" clip-path="url(#c612)"/>
<clipPath id="q612"><path d="M830 622C870 624 900 626 930 636C950 640 960 633 975 630V754C975 768 945 780 901 780C857 780 830 768 830 754Z"/></clipPath>
<g clip-path="url(#c612)"><path d="M830 622C870 624 900 626 930 636C950 640 960 633 975 630V754C975 768 945 780 901 780C857 780 830 768 830 754Z" fill="#bbcdeb"/><path d="M2.23 0V1024M21.12 0V1024M40.02 0V1024M58.91 0V1024M77.81 0V1024M96.7 0V1024M115.6 0V1024M134.49 0V1024M153.39 0V1024M172.28 0V1024M191.18 0V1024M210.07 0V1024M228.97 0V1024M247.86 0V1024M266.76 0V1024M285.66 0V1024M304.55 0V1024M323.44 0V1024M342.34 0V1024M361.24 0V1024M380.13 0V1024M399.03 0V1024M417.92 0V1024M436.81 0V1024M455.71 0V1024M474.61 0V1024M493.5 0V1024M512.39 0V1024M531.29 0V1024M550.19 0V1024M569.08 0V1024M587.98 0V1024M606.87 0V1024M625.76 0V1024M644.66 0V1024M663.55 0V1024M682.45 0V1024M701.35 0V1024M720.24 0V1024M739.13 0V1024M758.03 0V1024M776.92 0V1024M795.82 0V1024M814.72 0V1024M833.61 0V1024M852.5 0V1024M871.4 0V1024M890.29 0V1024M909.19 0V1024M928.09 0V1024M946.98 0V1024M965.88 0V1024M984.77 0V1024M1003.66 0V1024M1022.56 0V1024M0 0.4H1024M0 19.36H1024M0 38.32H1024M0 57.28H1024M0 76.24H1024M0 95.2H1024M0 114.17H1024M0 133.13H1024M0 152.09H1024M0 171.05H1024M0 190.01H1024M0 208.97H1024M0 227.93H1024M0 246.89H1024M0 265.85H1024M0 284.81H1024M0 303.78H1024M0 322.74H1024M0 341.7H1024M0 360.66H1024M0 379.62H1024M0 398.58H1024M0 417.54H1024M0 436.5H1024M0 455.46H1024M0 474.42H1024M0 493.39H1024M0 512.35H1024M0 531.31H1024M0 550.27H1024M0 569.23H1024M0 588.19H1024M0 607.15H1024M0 626.11H1024M0 645.07H1024M0 664.03H1024M0 683H1024M0 701.96H1024M0 720.92H1024M0 739.88H1024M0 758.84H1024M0 777.8H1024M0 796.76H1024M0 815.72H1024M0 834.68H1024M0 853.64H1024M0 872.61H1024M0 891.57H1024M0 910.53H1024M0 929.49H1024M0 948.45H1024M0 967.41H1024M0 986.37H1024M0 1005.33H1024M0 1024.29H1024" stroke="#a9bfe3" stroke-opacity="0.45" stroke-width="1.1" fill="none" clip-path="url(#q612)"/><path d="M831.75 569.5V756C831.75 770 856 777 874 792Q900.88 800 927.75 792C945.75 777 970 770 970 756V569.5A69.12 17 0 0 0 831.75 569.5Z" fill="none" stroke="#fdfdfe" stroke-width="10"/></g>
<path d="M831.75 569.5V756C831.75 770 856 777 874 792Q900.88 800 927.75 792C945.75 777 970 770 970 756V569.5A69.12 17 0 0 0 831.75 569.5Z" fill="none" stroke="#163c85" stroke-width="1.8" stroke-linejoin="round" />
<ellipse cx="900.88" cy="569.5" rx="69.12" ry="17" fill="#fdfdfe" stroke="#163c85" stroke-width="1.8"/>
<rect x="104.5" y="156" width="28" height="20" fill="#fdfdfe"/>
<rect x="107.8" y="150" width="21.4" height="22.5" rx="0" fill="#bbcdeb" stroke="#163c85" stroke-width="0" />
<path d="M104.5 150V174Q118.5 179 132.5 174V158.6" fill="none" stroke="#163c85" stroke-width="1.8" stroke-linejoin="round" />
<rect x="886.5" y="156" width="28" height="20" fill="#fdfdfe"/>
<rect x="889.8" y="150" width="21.4" height="22.5" rx="0" fill="#bbcdeb" stroke="#163c85" stroke-width="0" />
<path d="M886.5 158.6V174Q900.5 179 914.5 174V150" fill="none" stroke="#163c85" stroke-width="1.8" stroke-linejoin="round" />
<path d="M104.5 158.9Q118.5 158.2 132.5 158.6" fill="none" stroke="#163c85" stroke-width="1.5" stroke-linejoin="round" />
<path d="M886.5 159.8Q900.5 159.2 914.5 159.6" fill="none" stroke="#163c85" stroke-width="1.5" stroke-linejoin="round" />
<circle cx="174.75" cy="257.18" r="3.57" fill="#163c85" stroke="#163c85" stroke-width="2.6" />
<circle cx="173.75" cy="251.82" r="4.5" fill="#163c85" stroke="#163c85" stroke-width="2.6" />
<circle cx="174.75" cy="257.18" r="3.57" fill="#b7cbea" stroke="#163c85" stroke-width="0" />
<circle cx="173.75" cy="251.82" r="4.5" fill="#b7cbea" stroke="#163c85" stroke-width="0" />
<path d="M173.32 257.18a1.25 1.25 0 1 1 1.79 0.71" fill="none" stroke="#163c85" stroke-width="0.9"/>
<path d="M171.95 251.82a1.57 1.57 0 1 1 2.25 0.9" fill="none" stroke="#163c85" stroke-width="0.9"/>
<circle cx="128.9" cy="271.66" r="3.03" fill="#163c85" stroke="#163c85" stroke-width="2.6" />
<circle cx="127.1" cy="268.34" r="3.14" fill="#163c85" stroke="#163c85" stroke-width="2.6" />
<circle cx="128.9" cy="271.66" r="3.03" fill="#b7cbea" stroke="#163c85" stroke-width="0" />
<circle cx="127.1" cy="268.34" r="3.14" fill="#b7cbea" stroke="#163c85" stroke-width="0" />
<path d="M127.68 271.66a1.06 1.06 0 1 1 1.52 0.61" fill="none" stroke="#163c85" stroke-width="0.9"/>
<path d="M125.84 268.34a1.1 1.1 0 1 1 1.57 0.63" fill="none" stroke="#163c85" stroke-width="0.9"/>
<circle cx="73.52" cy="283.43" r="2.91" fill="#163c85" stroke="#163c85" stroke-width="2.6" />
<circle cx="71.48" cy="287.57" r="3.54" fill="#163c85" stroke="#163c85" stroke-width="2.6" />
<circle cx="73.52" cy="283.43" r="2.91" fill="#b7cbea" stroke="#163c85" stroke-width="0" />
<circle cx="71.48" cy="287.57" r="3.54" fill="#b7cbea" stroke="#163c85" stroke-width="0" />
<path d="M72.36 283.43a1.02 1.02 0 1 1 1.45 0.58" fill="none" stroke="#163c85" stroke-width="0.9"/>
<path d="M70.06 287.57a1.24 1.24 0 1 1 1.77 0.71" fill="none" stroke="#163c85" stroke-width="0.9"/>
<circle cx="98.85" cy="278.84" r="3.75" fill="#163c85" stroke="#163c85" stroke-width="2.6" />
<circle cx="93.65" cy="277.16" r="3.75" fill="#163c85" stroke="#163c85" stroke-width="2.6" />
<circle cx="98.85" cy="278.84" r="3.75" fill="#b7cbea" stroke="#163c85" stroke-width="0" />
<circle cx="93.65" cy="277.16" r="3.75" fill="#b7cbea" stroke="#163c85" stroke-width="0" />
<path d="M97.35 278.84a1.31 1.31 0 1 1 1.88 0.75" fill="none" stroke="#163c85" stroke-width="0.9"/>
<path d="M92.15 277.16a1.31 1.31 0 1 1 1.88 0.75" fill="none" stroke="#163c85" stroke-width="0.9"/>
<circle cx="164.79" cy="293.92" r="3.49" fill="#163c85" stroke="#163c85" stroke-width="2.6" />
<circle cx="169.14" cy="292.07" r="3.82" fill="#163c85" stroke="#163c85" stroke-width="2.6" />
<circle cx="168.57" cy="296.76" r="4.42" fill="#163c85" stroke="#163c85" stroke-width="2.6" />
<circle cx="164.79" cy="293.92" r="3.49" fill="#b7cbea" stroke="#163c85" stroke-width="0" />
<circle cx="169.14" cy="292.07" r="3.82" fill="#b7cbea" stroke="#163c85" stroke-width="0" />
<circle cx="168.57" cy="296.76" r="4.42" fill="#b7cbea" stroke="#163c85" stroke-width="0" />
<path d="M163.4 293.92a1.22 1.22 0 1 1 1.74 0.7" fill="none" stroke="#163c85" stroke-width="0.9"/>
<path d="M167.62 292.07a1.34 1.34 0 1 1 1.91 0.76" fill="none" stroke="#163c85" stroke-width="0.9"/>
<circle cx="155.52" cy="315.93" r="4.28" fill="#163c85" stroke="#163c85" stroke-width="2.6" />
<circle cx="154.48" cy="322.57" r="4.29" fill="#163c85" stroke="#163c85" stroke-width="2.6" />
<circle cx="155.52" cy="315.93" r="4.28" fill="#b7cbea" stroke="#163c85" stroke-width="0" />
<circle cx="154.48" cy="322.57" r="4.29" fill="#b7cbea" stroke="#163c85" stroke-width="0" />
<path d="M153.81 315.93a1.5 1.5 0 1 1 2.14 0.86" fill="none" stroke="#163c85" stroke-width="0.9"/>
<path d="M152.76 322.57a1.5 1.5 0 1 1 2.15 0.86" fill="none" stroke="#163c85" stroke-width="0.9"/>
<circle cx="66.03" cy="346.38" r="3.77" fill="#163c85" stroke="#163c85" stroke-width="2.6" />
<circle cx="61.47" cy="347.12" r="2.99" fill="#163c85" stroke="#163c85" stroke-width="2.6" />
<circle cx="66.03" cy="346.38" r="3.77" fill="#b7cbea" stroke="#163c85" stroke-width="0" />
<circle cx="61.47" cy="347.12" r="2.99" fill="#b7cbea" stroke="#163c85" stroke-width="0" />
<path d="M64.52 346.38a1.32 1.32 0 1 1 1.89 0.75" fill="none" stroke="#163c85" stroke-width="0.9"/>
<path d="M60.28 347.12a1.05 1.05 0 1 1 1.49 0.6" fill="none" stroke="#163c85" stroke-width="0.9"/>
<circle cx="137.36" cy="348.2" r="4.17" fill="#163c85" stroke="#163c85" stroke-width="2.6" />
<circle cx="141.9" cy="345.18" r="4.05" fill="#163c85" stroke="#163c85" stroke-width="2.6" />
<circle cx="142.25" cy="350.62" r="4.49" fill="#163c85" stroke="#163c85" stroke-width="2.6" />
<circle cx="137.36" cy="348.2" r="4.17" fill="#b7cbea" stroke="#163c85" stroke-width="0" />
<circle cx="141.9" cy="345.18" r="4.05" fill="#b7cbea" stroke="#163c85" stroke-width="0" />
<circle cx="142.25" cy="350.62" r="4.49" fill="#b7cbea" stroke="#163c85" stroke-width="0" />
<path d="M135.69 348.2a1.46 1.46 0 1 1 2.09 0.83" fill="none" stroke="#163c85" stroke-width="0.9"/>
<path d="M140.27 345.18a1.42 1.42 0 1 1 2.03 0.81" fill="none" stroke="#163c85" stroke-width="0.9"/>
<circle cx="85.52" cy="358.06" r="3.27" fill="#163c85" stroke="#163c85" stroke-width="2.6" />
<circle cx="89.48" cy="360.44" r="3.09" fill="#163c85" stroke="#163c85" stroke-width="2.6" />
<circle cx="85.52" cy="358.06" r="3.27" fill="#b7cbea" stroke="#163c85" stroke-width="0" />
<circle cx="89.48" cy="360.44" r="3.09" fill="#b7cbea" stroke="#163c85" stroke-width="0" />
<path d="M84.21 358.06a1.14 1.14 0 1 1 1.63 0.65" fill="none" stroke="#163c85" stroke-width="0.9"/>
<path d="M88.24 360.44a1.08 1.08 0 1 1 1.55 0.62" fill="none" stroke="#163c85" stroke-width="0.9"/>
<circle cx="167.61" cy="374.41" r="2.75" fill="#163c85" stroke="#163c85" stroke-width="2.6" />
<circle cx="171.39" cy="372.59" r="2.64" fill="#163c85" stroke="#163c85" stroke-width="2.6" />
<circle cx="167.61" cy="374.41" r="2.75" fill="#b7cbea" stroke="#163c85" stroke-width="0" />
<circle cx="171.39" cy="372.59" r="2.64" fill="#b7cbea" stroke="#163c85" stroke-width="0" />
<path d="M166.51 374.41a0.96 0.96 0 1 1 1.38 0.55" fill="none" stroke="#163c85" stroke-width="0.9"/>
<path d="M170.34 372.59a0.92 0.92 0 1 1 1.32 0.53" fill="none" stroke="#163c85" stroke-width="0.9"/>
<circle cx="96.28" cy="382.15" r="2.17" fill="#163c85" stroke="#163c85" stroke-width="2.6" />
<circle cx="97.12" cy="379.36" r="2.24" fill="#163c85" stroke="#163c85" stroke-width="2.6" />
<circle cx="99.11" cy="381.49" r="2.39" fill="#163c85" stroke="#163c85" stroke-width="2.6" />
<circle cx="96.28" cy="382.15" r="2.17" fill="#b7cbea" stroke="#163c85" stroke-width="0" />
<circle cx="97.12" cy="379.36" r="2.24" fill="#b7cbea" stroke="#163c85" stroke-width="0" />
<circle cx="99.11" cy="381.49" r="2.39" fill="#b7cbea" stroke="#163c85" stroke-width="0" />
<path d="M95.41 382.15a0.76 0.76 0 1 1 1.08 0.43" fill="none" stroke="#163c85" stroke-width="0.9"/>
<path d="M96.22 379.36a0.78 0.78 0 1 1 1.12 0.45" fill="none" stroke="#163c85" stroke-width="0.9"/>
<circle cx="111.02" cy="390.71" r="3.77" fill="#163c85" stroke="#163c85" stroke-width="2.6" />
<circle cx="115.01" cy="392.49" r="3.87" fill="#163c85" stroke="#163c85" stroke-width="2.6" />
<circle cx="111.48" cy="395.05" r="3.21" fill="#163c85" stroke="#163c85" stroke-width="2.6" />
<circle cx="111.02" cy="390.71" r="3.77" fill="#b7cbea" stroke="#163c85" stroke-width="0" />
<circle cx="115.01" cy="392.49" r="3.87" fill="#b7cbea" stroke="#163c85" stroke-width="0" />
<circle cx="111.48" cy="395.05" r="3.21" fill="#b7cbea" stroke="#163c85" stroke-width="0" />
<path d="M109.51 390.71a1.32 1.32 0 1 1 1.88 0.75" fill="none" stroke="#163c85" stroke-width="0.9"/>
<path d="M113.46 392.49a1.36 1.36 0 1 1 1.94 0.77" fill="none" stroke="#163c85" stroke-width="0.9"/>
<circle cx="152.98" cy="400.03" r="4.83" fill="#163c85" stroke="#163c85" stroke-width="2.6" />
<circle cx="147.02" cy="397.97" r="5.01" fill="#163c85" stroke="#163c85" stroke-width="2.6" />
<circle cx="152.98" cy="400.03" r="4.83" fill="#b7cbea" stroke="#163c85" stroke-width="0" />
<circle cx="147.02" cy="397.97" r="5.01" fill="#b7cbea" stroke="#163c85" stroke-width="0" />
<path d="M151.05 400.03a1.69 1.69 0 1 1 2.41 0.97" fill="none" stroke="#163c85" stroke-width="0.9"/>
<path d="M145.02 397.97a1.75 1.75 0 1 1 2.51 1" fill="none" stroke="#163c85" stroke-width="0.9"/>
<circle cx="91.36" cy="417.31" r="4.26" fill="#163c85" stroke="#163c85" stroke-width="2.6" />
<circle cx="96.14" cy="414.69" r="3.98" fill="#163c85" stroke="#163c85" stroke-width="2.6" />
<circle cx="91.36" cy="417.31" r="4.26" fill="#b7cbea" stroke="#163c85" stroke-width="0" />
<circle cx="96.14" cy="414.69" r="3.98" fill="#b7cbea" stroke="#163c85" stroke-width="0" />
<path d="M89.65 417.31a1.49 1.49 0 1 1 2.13 0.85" fill="none" stroke="#163c85" stroke-width="0.9"/>
<path d="M94.55 414.69a1.39 1.39 0 1 1 1.99 0.8" fill="none" stroke="#163c85" stroke-width="0.9"/>
<circle cx="166.25" cy="268" r="2.4" fill="none" stroke="#163c85" stroke-width="1.3" />
<circle cx="144.5" cy="281" r="2.4" fill="none" stroke="#163c85" stroke-width="1.3" />
<circle cx="67" cy="315.5" r="2.4" fill="none" stroke="#163c85" stroke-width="1.3" />
<circle cx="165.5" cy="339.25" r="2.4" fill="none" stroke="#163c85" stroke-width="1.3" />
<circle cx="63.75" cy="376.75" r="2.4" fill="none" stroke="#163c85" stroke-width="1.3" />
<circle cx="142.5" cy="373" r="2.4" fill="none" stroke="#163c85" stroke-width="1.3" />
<circle cx="82" cy="321" r="2.4" fill="none" stroke="#163c85" stroke-width="1.3" />
<circle cx="154" cy="432" r="2.4" fill="none" stroke="#163c85" stroke-width="1.3" />
<line x1="86.63" y1="311.47" x2="99.13" y2="322.72" stroke="#163c85" stroke-width="1.3"/>
<line x1="88.37" y1="309.53" x2="100.87" y2="320.78" stroke="#163c85" stroke-width="1.3"/>
<line x1="100.1" y1="323.05" x2="122.6" y2="321.3" stroke="#163c85" stroke-width="1.3"/>
<line x1="99.9" y1="320.45" x2="122.4" y2="318.7" stroke="#163c85" stroke-width="1.3"/>
<line x1="98.7" y1="321.75" x2="98.7" y2="338" stroke="#163c85" stroke-width="1.3"/>
<line x1="101.3" y1="321.75" x2="101.3" y2="338" stroke="#163c85" stroke-width="1.3"/>
<line x1="99.64" y1="336.75" x2="84.14" y2="341.25" stroke="#163c85" stroke-width="1.3"/>
<line x1="100.36" y1="339.25" x2="84.86" y2="343.75" stroke="#163c85" stroke-width="1.3"/>
<line x1="99.3" y1="339.09" x2="114.8" y2="349.09" stroke="#163c85" stroke-width="1.3"/>
<line x1="100.7" y1="336.91" x2="116.2" y2="346.91" stroke="#163c85" stroke-width="1.3"/>
<circle cx="87.5" cy="310.5" r="3.8" fill="#bbcdeb" stroke="#163c85" stroke-width="1.4" />
<circle cx="122.5" cy="320" r="6" fill="#bbcdeb" stroke="#163c85" stroke-width="1.4" />
<circle cx="84.5" cy="342.5" r="3.4" fill="#bbcdeb" stroke="#163c85" stroke-width="1.4" />
<circle cx="115.5" cy="348" r="3.5" fill="#bbcdeb" stroke="#163c85" stroke-width="1.4" />
<circle cx="100" cy="321.75" r="2" fill="none" stroke="#163c85" stroke-width="1.4" />
<circle cx="100" cy="338" r="2" fill="none" stroke="#163c85" stroke-width="1.4" />
<circle cx="91.25" cy="625.07" r="3.17" fill="#163c85" stroke="#163c85" stroke-width="2.6" />
<circle cx="90.35" cy="620.53" r="3.5" fill="#163c85" stroke="#163c85" stroke-width="2.6" />
<circle cx="91.25" cy="625.07" r="3.17" fill="#b7cbea" stroke="#163c85" stroke-width="0" />
<circle cx="90.35" cy="620.53" r="3.5" fill="#b7cbea" stroke="#163c85" stroke-width="0" />
<path d="M89.98 625.07a1.11 1.11 0 1 1 1.59 0.63" fill="none" stroke="#163c85" stroke-width="0.9"/>
<path d="M88.95 620.53a1.23 1.23 0 1 1 1.75 0.7" fill="none" stroke="#163c85" stroke-width="0.9"/>
<circle cx="77.04" cy="650.67" r="2.76" fill="#163c85" stroke="#163c85" stroke-width="2.6" />
<circle cx="76.36" cy="646.53" r="2.66" fill="#163c85" stroke="#163c85" stroke-width="2.6" />
<circle cx="77.04" cy="650.67" r="2.76" fill="#b7cbea" stroke="#163c85" stroke-width="0" />
<circle cx="76.36" cy="646.53" r="2.66" fill="#b7cbea" stroke="#163c85" stroke-width="0" />
<path d="M75.93 650.67a0.96 0.96 0 1 1 1.38 0.55" fill="none" stroke="#163c85" stroke-width="0.9"/>
<path d="M75.3 646.53a0.93 0.93 0 1 1 1.33 0.53" fill="none" stroke="#163c85" stroke-width="0.9"/>
<circle cx="94.33" cy="662.24" r="4.51" fill="#163c85" stroke="#163c85" stroke-width="2.6" />
<circle cx="98.17" cy="658.36" r="4.38" fill="#163c85" stroke="#163c85" stroke-width="2.6" />
<circle cx="94.33" cy="662.24" r="4.51" fill="#b7cbea" stroke="#163c85" stroke-width="0" />
<circle cx="98.17" cy="658.36" r="4.38" fill="#b7cbea" stroke="#163c85" stroke-width="0" />
<path d="M92.53 662.24a1.58 1.58 0 1 1 2.26 0.9" fill="none" stroke="#163c85" stroke-width="0.9"/>
<path d="M96.42 658.36a1.53 1.53 0 1 1 2.19 0.88" fill="none" stroke="#163c85" stroke-width="0.9"/>
<circle cx="139.33" cy="649.83" r="4.59" fill="#163c85" stroke="#163c85" stroke-width="2.6" />
<circle cx="135.07" cy="645.77" r="4.91" fill="#163c85" stroke="#163c85" stroke-width="2.6" />
<circle cx="139.33" cy="649.83" r="4.59" fill="#b7cbea" stroke="#163c85" stroke-width="0" />
<circle cx="135.07" cy="645.77" r="4.91" fill="#b7cbea" stroke="#163c85" stroke-width="0" />
<path d="M137.49 649.83a1.61 1.61 0 1 1 2.29 0.92" fill="none" stroke="#163c85" stroke-width="0.9"/>
<path d="M133.11 645.77a1.72 1.72 0 1 1 2.46 0.98" fill="none" stroke="#163c85" stroke-width="0.9"/>
<circle cx="155.6" cy="658.75" r="7" fill="#bbcdeb" stroke="#163c85" stroke-width="1.5" />
<circle cx="68.4" cy="665" r="1.8" fill="none" stroke="#163c85" stroke-width="1.3" />
<circle cx="134" cy="668.1" r="1.8" fill="none" stroke="#163c85" stroke-width="1.3" />
<circle cx="169" cy="634.2" r="1.8" fill="none" stroke="#163c85" stroke-width="1.3" />
<path d="M900.94 310.4L894.39 324.45L878.95 325.8L870.06 313.1L876.61 299.05L892.05 297.7Z" fill="none" stroke="#163c85" stroke-width="1.6" stroke-linejoin="round" />
<line x1="896.05" y1="311.99" x2="892.47" y2="319.68" stroke="#163c85" stroke-width="1.2"/>
<line x1="880.02" y1="320.77" x2="875.15" y2="313.82" stroke="#163c85" stroke-width="1.2"/>
<line x1="880.43" y1="302.49" x2="888.88" y2="301.75" stroke="#163c85" stroke-width="1.2"/>
<line x1="913.75" y1="269.25" x2="908.75" y2="296.75" stroke="#163c85" stroke-width="1.3"/>
<line x1="908.75" y1="296.75" x2="899" y2="300" stroke="#163c85" stroke-width="1.3"/>
<line x1="860.5" y1="290" x2="872" y2="300" stroke="#163c85" stroke-width="1.3"/>
<line x1="870" y1="325" x2="869.25" y2="339.25" stroke="#163c85" stroke-width="1.3"/>
<line x1="900" y1="322" x2="903" y2="328" stroke="#163c85" stroke-width="1.3"/>
<line x1="902.77" y1="329.28" x2="924.02" y2="333.03" stroke="#163c85" stroke-width="1.3"/>
<line x1="903.23" y1="326.72" x2="924.48" y2="330.47" stroke="#163c85" stroke-width="1.3"/>
<line x1="924.25" y1="331.75" x2="931.75" y2="316" stroke="#163c85" stroke-width="1.3"/>
<line x1="924.25" y1="331.75" x2="935.5" y2="349.25" stroke="#163c85" stroke-width="1.3"/>
<line x1="901.72" y1="327.79" x2="897.72" y2="352.79" stroke="#163c85" stroke-width="1.3"/>
<line x1="904.28" y1="328.21" x2="900.28" y2="353.21" stroke="#163c85" stroke-width="1.3"/>
<line x1="899" y1="353" x2="884.25" y2="355" stroke="#163c85" stroke-width="1.3"/>
<line x1="897.94" y1="353.75" x2="909.44" y2="370" stroke="#163c85" stroke-width="1.3"/>
<line x1="900.06" y1="352.25" x2="911.56" y2="368.5" stroke="#163c85" stroke-width="1.3"/>
<line x1="910.5" y1="369.25" x2="896.75" y2="377.5" stroke="#163c85" stroke-width="1.3"/>
<line x1="910.5" y1="369.25" x2="923" y2="383" stroke="#163c85" stroke-width="1.3"/>
<circle cx="913.75" cy="269.25" r="7.5" fill="#bbcdeb" stroke="#163c85" stroke-width="1.4" />
<circle cx="868.75" cy="270.5" r="3.5" fill="#bbcdeb" stroke="#163c85" stroke-width="1.4" />
<circle cx="860.5" cy="290" r="3" fill="#bbcdeb" stroke="#163c85" stroke-width="1.4" />
<circle cx="908.75" cy="296.75" r="4.5" fill="#bbcdeb" stroke="#163c85" stroke-width="1.4" />
<circle cx="938" cy="292.25" r="3.75" fill="#bbcdeb" stroke="#163c85" stroke-width="1.4" />
<circle cx="848" cy="319.25" r="4.5" fill="#bbcdeb" stroke="#163c85" stroke-width="1.4" />
<circle cx="931.75" cy="316" r="3.25" fill="#bbcdeb" stroke="#163c85" stroke-width="1.4" />
<circle cx="903" cy="328" r="4.5" fill="#bbcdeb" stroke="#163c85" stroke-width="1.4" />
<circle cx="869.25" cy="339.25" r="3.5" fill="#bbcdeb" stroke="#163c85" stroke-width="1.4" />
<circle cx="935.5" cy="349.25" r="3.25" fill="#bbcdeb" stroke="#163c85" stroke-width="1.4" />
<circle cx="884.25" cy="355" r="3.25" fill="#bbcdeb" stroke="#163c85" stroke-width="1.4" />
<circle cx="896.75" cy="377.5" r="3.2" fill="#bbcdeb" stroke="#163c85" stroke-width="1.4" />
<circle cx="923" cy="383" r="3" fill="#bbcdeb" stroke="#163c85" stroke-width="1.4" />
<circle cx="891" cy="393.5" r="3" fill="#bbcdeb" stroke="#163c85" stroke-width="1.4" />
<path d="M945.25 653.5L939.75 663.03L928.75 663.03L923.25 653.5L928.75 643.97L939.75 643.97Z" fill="none" stroke="#163c85" stroke-width="1.6" stroke-linejoin="round" />
<path d="M905.27 693.4L900.14 707.49L885.37 710.1L875.73 698.6L880.86 684.51L895.63 681.9Z" fill="none" stroke="#163c85" stroke-width="1.6" stroke-linejoin="round" />
<line x1="900.69" y1="695.34" x2="897.89" y2="703.06" stroke="#163c85" stroke-width="1.2"/>
<line x1="885.97" y1="705.16" x2="880.7" y2="698.87" stroke="#163c85" stroke-width="1.2"/>
<line x1="884.83" y1="687.5" x2="892.92" y2="686.08" stroke="#163c85" stroke-width="1.2"/>
<line x1="896" y1="652.25" x2="913" y2="661" stroke="#163c85" stroke-width="1.3"/>
<line x1="913.64" y1="662.13" x2="924.14" y2="656.13" stroke="#163c85" stroke-width="1.3"/>
<line x1="912.36" y1="659.87" x2="922.86" y2="653.87" stroke="#163c85" stroke-width="1.3"/>
<line x1="913" y1="661" x2="911.75" y2="678.5" stroke="#163c85" stroke-width="1.3"/>
<line x1="864.25" y1="675.5" x2="877" y2="684" stroke="#163c85" stroke-width="1.3"/>
<line x1="855" y1="715.25" x2="875" y2="705" stroke="#163c85" stroke-width="1.3"/>
<line x1="876.25" y1="725.25" x2="882" y2="711" stroke="#163c85" stroke-width="1.3"/>
<line x1="905" y1="700" x2="909.25" y2="712.25" stroke="#163c85" stroke-width="1.3"/>
<line x1="909.25" y1="712.25" x2="931.75" y2="712.25" stroke="#163c85" stroke-width="1.3"/>
<line x1="931.75" y1="712.25" x2="937.25" y2="696.75" stroke="#163c85" stroke-width="1.3"/>
<line x1="931.75" y1="712.25" x2="943" y2="728.5" stroke="#163c85" stroke-width="1.3"/>
<line x1="911" y1="716" x2="911.75" y2="734.75" stroke="#163c85" stroke-width="1.3"/>
<line x1="911.75" y1="734.75" x2="894.25" y2="740.25" stroke="#163c85" stroke-width="1.3"/>
<line x1="911.75" y1="734.75" x2="924.75" y2="753.5" stroke="#163c85" stroke-width="1.3"/>
<circle cx="906.75" cy="628.5" r="7.5" fill="#bbcdeb" stroke="#163c85" stroke-width="1.4" />
<circle cx="871.75" cy="653.5" r="3.75" fill="#bbcdeb" stroke="#163c85" stroke-width="1.4" />
<circle cx="896" cy="652.25" r="1.8" fill="#163c85" stroke="#163c85" stroke-width="1.4" />
<circle cx="911.75" cy="678.5" r="5" fill="#bbcdeb" stroke="#163c85" stroke-width="1.4" />
<circle cx="941.25" cy="674" r="3.75" fill="#bbcdeb" stroke="#163c85" stroke-width="1.4" />
<circle cx="864.25" cy="675.5" r="3.2" fill="#bbcdeb" stroke="#163c85" stroke-width="1.4" />
<circle cx="855" cy="715.25" r="4.5" fill="#bbcdeb" stroke="#163c85" stroke-width="1.4" />
<circle cx="876.25" cy="725.25" r="3.75" fill="#bbcdeb" stroke="#163c85" stroke-width="1.4" />
<circle cx="909.25" cy="712.25" r="5" fill="#bbcdeb" stroke="#163c85" stroke-width="1.4" />
<circle cx="937.25" cy="696.75" r="3.3" fill="#bbcdeb" stroke="#163c85" stroke-width="1.4" />
<circle cx="943" cy="728.5" r="3.3" fill="#bbcdeb" stroke="#163c85" stroke-width="1.4" />
<circle cx="931.75" cy="712.25" r="2.4" fill="none" stroke="#163c85" stroke-width="1.4" />
<circle cx="911.75" cy="734.75" r="2.4" fill="none" stroke="#163c85" stroke-width="1.4" />
<circle cx="894.25" cy="740.25" r="3.5" fill="#bbcdeb" stroke="#163c85" stroke-width="1.4" />
<circle cx="924.75" cy="753.5" r="3.5" fill="#bbcdeb" stroke="#163c85" stroke-width="1.4" />
<line x1="358.25" y1="322.25" x2="398.6" y2="322.25" stroke="#163c85" stroke-width="1.8"/>
<line x1="620.5" y1="322.25" x2="660.3" y2="322.25" stroke="#163c85" stroke-width="1.8"/>
<line x1="54.5" y1="474" x2="83" y2="474" stroke="#0f3f8f" stroke-width="4.4"/>
<polygon points="80.5,468.6 88,474 80.5,479.4 82.2,474" fill="#0f3f8f"/>
<line x1="55" y1="531.5" x2="83" y2="531.5" stroke="#0f3f8f" stroke-width="4.4"/>
<polygon points="80.5,526.1 88,531.5 80.5,536.9 82.2,531.5" fill="#0f3f8f"/>
<line x1="961" y1="473.5" x2="931.75" y2="473.5" stroke="#0f3f8f" stroke-width="4.4"/>
<polygon points="934.25,468.1 926.75,473.5 934.25,478.9 932.55,473.5" fill="#0f3f8f"/>
<rect x="51.5" y="83" width="122.7" height="42" fill="#0f3f8f"/>
<polygon points="51.5,124 52,134.6 61.7,124" fill="#0f3f8f"/>
<text x="71" y="110.9" font-size="18.5" textLength="86.8" lengthAdjust="spacingAndGlyphs" fill="#f4f6fb" stroke="#f4f6fb" stroke-width="0.55">IMPURE FEED</text>
<rect x="338" y="138" width="127.5" height="57" fill="#0f3f8f"/>
<polygon points="338,194 338.5,206.75 354.75,194" fill="#0f3f8f"/>
<text x="349" y="162.5" font-size="18" textLength="105.75" lengthAdjust="spacingAndGlyphs" fill="#f4f6fb" stroke="#f4f6fb" stroke-width="0.55">PHARMACTUCAL</text>
<text x="353.5" y="183.5" font-size="18" textLength="94.5" lengthAdjust="spacingAndGlyphs" fill="#f4f6fb" stroke="#f4f6fb" stroke-width="0.55">INTERMDIATES</text>
<rect x="398.6" y="308" width="98.4" height="30.5" fill="#0f3f8f"/>
<polygon points="" fill="#0f3f8f"/>
<text x="407.5" y="329.6" font-size="17.5" textLength="79.2" lengthAdjust="spacingAndGlyphs" fill="#f4f6fb" stroke="#f4f6fb" stroke-width="0.55">INPUT PUMP</text>
<rect x="840.6" y="83.25" width="125.8" height="41.55" fill="#0f3f8f"/>
<polygon points="966.4,124 966.4,134.5 957,124" fill="#0f3f8f"/>
<text x="852" y="111" font-size="18.5" textLength="102.7" lengthAdjust="spacingAndGlyphs" fill="#f4f6fb" stroke="#f4f6fb" stroke-width="0.55">PURE PRODUCT</text>
<rect x="553.4" y="138.2" width="126.5" height="56.7" fill="#0f3f8f"/>
<polygon points="679.9,194 680.25,206.1 664.3,194" fill="#0f3f8f"/>
<text x="570.6" y="162.7" font-size="18" textLength="90.6" lengthAdjust="spacingAndGlyphs" fill="#f4f6fb" stroke="#f4f6fb" stroke-width="0.55">PURIFICATION</text>
<text x="596.8" y="183.5" font-size="18" textLength="37.5" lengthAdjust="spacingAndGlyphs" fill="#f4f6fb" stroke="#f4f6fb" stroke-width="0.55">RESIN</text>
<rect x="518.9" y="308" width="101.6" height="30.5" fill="#0f3f8f"/>
<polygon points="" fill="#0f3f8f"/>
<text x="525.5" y="329.6" font-size="17.5" textLength="90.3" lengthAdjust="spacingAndGlyphs" fill="#f4f6fb" stroke="#f4f6fb" stroke-width="0.55">OUTPUT PUMP</text>
<text x="63.75" y="693.4" font-size="17.5" font-weight="bold" textLength="108.75" lengthAdjust="spacingAndGlyphs" fill="#1a3f8c" stroke="#1a3f8c" stroke-width="0">PHARMACTUICAL</text>
<text x="70.5" y="714.2" font-size="17.5" font-weight="bold" textLength="95.3" lengthAdjust="spacingAndGlyphs" fill="#1a3f8c" stroke="#1a3f8c" stroke-width="0">INTERMIDIATES</text>
<text x="70" y="735.6" font-size="17.5" font-weight="bold" textLength="101.25" lengthAdjust="spacingAndGlyphs" fill="#1a3f8c" stroke="#1a3f8c" stroke-width="0">PLASMA RESINS</text>
<text x="235" y="984.3" font-size="31.5" font-weight="bold" textLength="106.5" lengthAdjust="spacingAndGlyphs" fill="#143f8c" stroke="#143f8c" stroke-width="0">BEFORE</text>
<text x="695.5" y="984.3" font-size="31.5" font-weight="bold" textLength="85.5" lengthAdjust="spacingAndGlyphs" fill="#143f8c" stroke="#143f8c" stroke-width="0">AFTER</text></svg>
</body></html>
